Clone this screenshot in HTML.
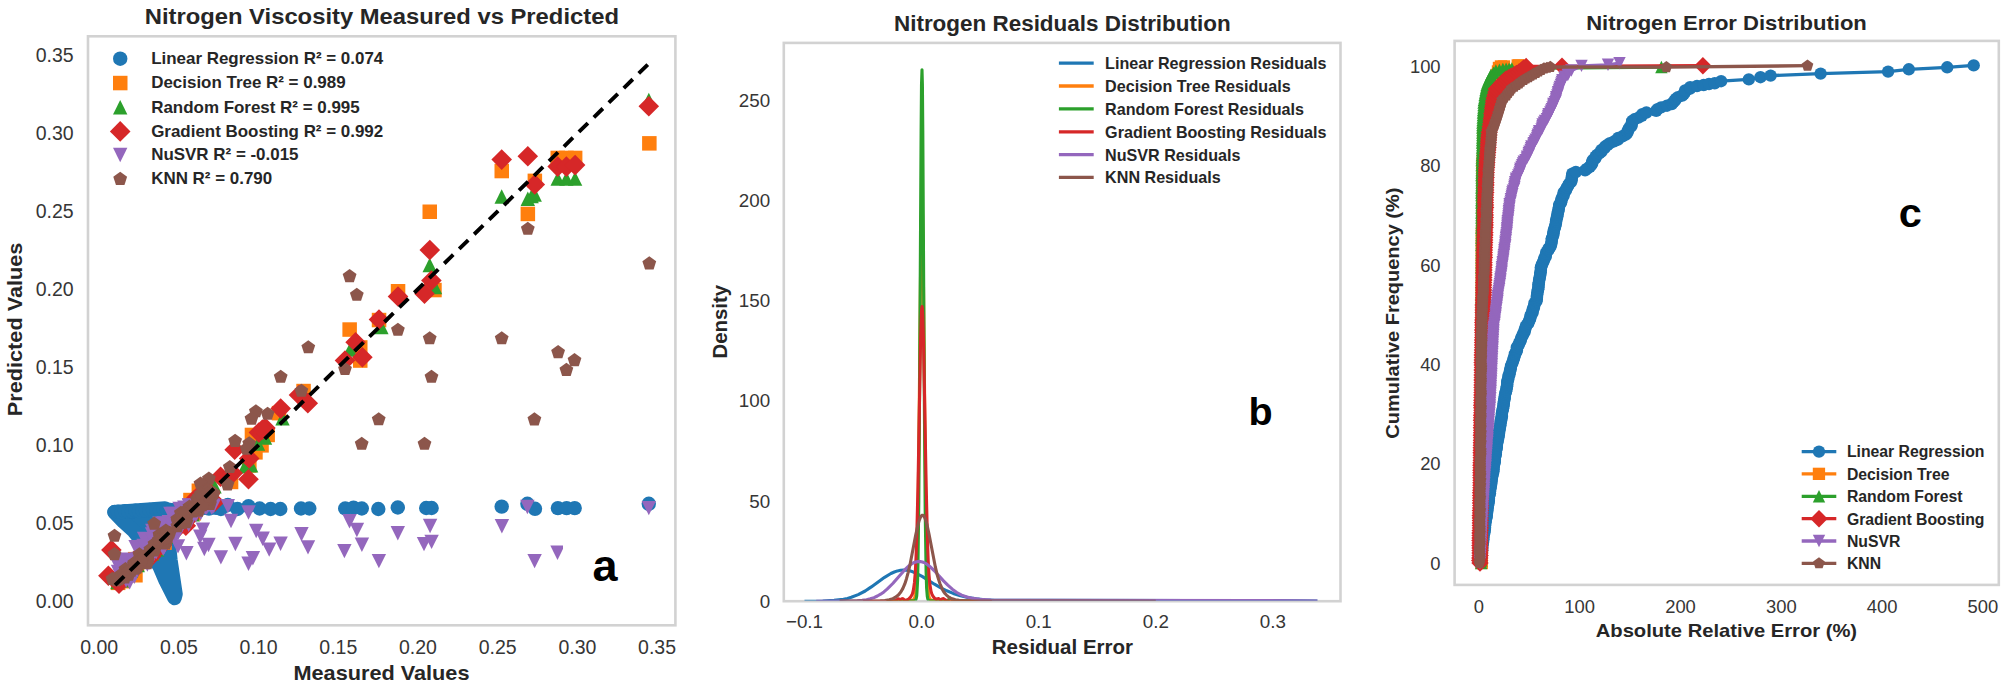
<!DOCTYPE html>
<html><head><meta charset="utf-8"><title>Nitrogen model comparison</title>
<style>
html,body{margin:0;padding:0;background:#fff;}
svg{display:block;}
text{font-family:"Liberation Sans",sans-serif;fill:#262626;}
.t{font-size:19.5px;fill:#363636;}
.b{font-weight:bold;}
</style></head><body>
<svg width="2006" height="688" viewBox="0 0 2006 688">
<rect width="2006" height="688" fill="#ffffff"/>
<defs><g id="c14_51f77b4" fill="#1f77b4"><circle r="7.2"/></g><g id="s14_5ff7f0e" fill="#ff7f0e"><rect x="-7.2" y="-7.2" width="14.5" height="14.5"/></g><g id="u14_52ca02c" fill="#2ca02c"><polygon points="0,-7.2 -7.2,7.2 7.2,7.2"/></g><g id="m14_5d62728" fill="#d62728"><polygon points="0,-10.3 10.3,0 0,10.3 -10.3,0"/></g><g id="d14_59467bd" fill="#9467bd"><polygon points="0,7.2 -7.2,-7.2 7.2,-7.2"/></g><g id="p14_58c564b" fill="#8c564b"><polygon points="0.00,-7.25 6.90,-2.24 4.26,5.87 -4.26,5.87 -6.90,-2.24"/></g><g id="c12_31f77b4" fill="#1f77b4"><circle r="6.2"/></g><g id="s12_3ff7f0e" fill="#ff7f0e"><rect x="-6.2" y="-6.2" width="12.3" height="12.3"/></g><g id="u12_32ca02c" fill="#2ca02c"><polygon points="0,-6.2 -6.2,6.2 6.2,6.2"/></g><g id="m12_3d62728" fill="#d62728"><polygon points="0,-8.7 8.7,0 0,8.7 -8.7,0"/></g><g id="d12_39467bd" fill="#9467bd"><polygon points="0,6.2 -6.2,-6.2 6.2,-6.2"/></g><g id="p12_38c564b" fill="#8c564b"><polygon points="0.00,-6.15 5.85,-1.90 3.61,4.98 -3.61,4.98 -5.85,-1.90"/></g></defs>
<g id="panel-a">
<rect x="88.0" y="36.3" width="587.4" height="589.0" fill="#fff" stroke="#d2d2d2" stroke-width="2.6"/>
<g clip-path="url(#clipA)">
<defs><clipPath id="clipA"><rect x="89.3" y="37.6" width="584.8" height="586.4"/></clipPath></defs>
<polygon points="114.5,512.2 123.6,521.7 133.8,530.9 147,547.5 159.7,566.6 165.8,580.8 174.5,598 175.5,594 170.4,560 165,508.5" fill="#1f77b4" stroke="#1f77b4" stroke-width="14.5" stroke-linejoin="round"/>
<use href="#c14_51f77b4" x="220.9" y="509.0"/>
<use href="#c14_51f77b4" x="227.8" y="505.0"/>
<use href="#c14_51f77b4" x="237.5" y="509.0"/>
<use href="#c14_51f77b4" x="248.5" y="506.3"/>
<use href="#c14_51f77b4" x="259.6" y="508.5"/>
<use href="#c14_51f77b4" x="270.6" y="509.0"/>
<use href="#c14_51f77b4" x="280.3" y="509.0"/>
<use href="#c14_51f77b4" x="301.0" y="508.5"/>
<use href="#c14_51f77b4" x="309.3" y="508.5"/>
<use href="#c14_51f77b4" x="345.2" y="508.5"/>
<use href="#c14_51f77b4" x="353.5" y="507.7"/>
<use href="#c14_51f77b4" x="361.8" y="508.5"/>
<use href="#c14_51f77b4" x="378.3" y="509.0"/>
<use href="#c14_51f77b4" x="397.8" y="507.5"/>
<use href="#c14_51f77b4" x="426.2" y="508.0"/>
<use href="#c14_51f77b4" x="431.6" y="508.0"/>
<use href="#c14_51f77b4" x="501.7" y="506.6"/>
<use href="#c14_51f77b4" x="527.4" y="503.8"/>
<use href="#c14_51f77b4" x="535.0" y="508.8"/>
<use href="#c14_51f77b4" x="557.9" y="508.1"/>
<use href="#c14_51f77b4" x="566.6" y="508.1"/>
<use href="#c14_51f77b4" x="574.7" y="508.1"/>
<use href="#c14_51f77b4" x="648.8" y="503.8"/>
<use href="#c14_51f77b4" x="114.5" y="512.0"/>
<use href="#c14_51f77b4" x="118.0" y="511.6"/>
<use href="#c14_51f77b4" x="121.5" y="512.2"/>
<use href="#c14_51f77b4" x="125.0" y="511.1"/>
<use href="#c14_51f77b4" x="128.5" y="511.7"/>
<use href="#c14_51f77b4" x="132.0" y="511.3"/>
<use href="#c14_51f77b4" x="135.5" y="510.6"/>
<use href="#c14_51f77b4" x="139.0" y="511.2"/>
<use href="#c14_51f77b4" x="142.5" y="510.3"/>
<use href="#c14_51f77b4" x="146.0" y="510.8"/>
<use href="#c14_51f77b4" x="149.5" y="510.0"/>
<use href="#c14_51f77b4" x="153.0" y="509.9"/>
<use href="#c14_51f77b4" x="156.5" y="510.3"/>
<use href="#c14_51f77b4" x="160.0" y="510.8"/>
<use href="#c14_51f77b4" x="163.5" y="509.5"/>
<use href="#c14_51f77b4" x="167.0" y="509.5"/>
<use href="#c14_51f77b4" x="170.5" y="510.0"/>
<use href="#c14_51f77b4" x="174.0" y="510.3"/>
<use href="#c14_51f77b4" x="177.5" y="509.6"/>
<use href="#c14_51f77b4" x="181.0" y="509.1"/>
<use href="#c14_51f77b4" x="184.5" y="509.9"/>
<use href="#c14_51f77b4" x="188.0" y="508.3"/>
<use href="#c14_51f77b4" x="191.5" y="509.4"/>
<use href="#c14_51f77b4" x="195.0" y="508.3"/>
<use href="#c14_51f77b4" x="198.5" y="508.0"/>
<use href="#c14_51f77b4" x="202.0" y="507.8"/>
<use href="#c14_51f77b4" x="205.5" y="507.9"/>
<use href="#c14_51f77b4" x="209.0" y="508.6"/>
<use href="#c14_51f77b4" x="212.5" y="507.4"/>
<use href="#c14_51f77b4" x="216.0" y="507.9"/>
<use href="#c14_51f77b4" x="219.5" y="507.8"/>
<use href="#s14_5ff7f0e" x="649.3" y="143.3"/>
<use href="#s14_5ff7f0e" x="501.7" y="171.0"/>
<use href="#s14_5ff7f0e" x="557.7" y="157.9"/>
<use href="#s14_5ff7f0e" x="566.4" y="157.9"/>
<use href="#s14_5ff7f0e" x="575.1" y="157.9"/>
<use href="#s14_5ff7f0e" x="534.8" y="180.8"/>
<use href="#s14_5ff7f0e" x="429.7" y="211.7"/>
<use href="#s14_5ff7f0e" x="527.8" y="213.9"/>
<use href="#s14_5ff7f0e" x="398.0" y="291.2"/>
<use href="#s14_5ff7f0e" x="431.1" y="288.5"/>
<use href="#s14_5ff7f0e" x="434.4" y="290.0"/>
<use href="#s14_5ff7f0e" x="360.2" y="347.4"/>
<use href="#s14_5ff7f0e" x="360.2" y="360.5"/>
<use href="#s14_5ff7f0e" x="303.5" y="391.0"/>
<use href="#s14_5ff7f0e" x="379.0" y="320.0"/>
<use href="#s14_5ff7f0e" x="349.6" y="329.5"/>
<use href="#s14_5ff7f0e" x="279.0" y="413.1"/>
<use href="#s14_5ff7f0e" x="251.9" y="434.9"/>
<use href="#s14_5ff7f0e" x="267.6" y="434.9"/>
<use href="#s14_5ff7f0e" x="261.5" y="445.3"/>
<use href="#s14_5ff7f0e" x="255.4" y="452.3"/>
<use href="#s14_5ff7f0e" x="249.3" y="465.4"/>
<use href="#s14_5ff7f0e" x="231.0" y="481.9"/>
<use href="#s14_5ff7f0e" x="198.8" y="490.7"/>
<use href="#s14_5ff7f0e" x="149.7" y="549.6"/>
<use href="#s14_5ff7f0e" x="180.2" y="522.3"/>
<use href="#s14_5ff7f0e" x="168.9" y="528.8"/>
<use href="#s14_5ff7f0e" x="135.1" y="559.1"/>
<use href="#s14_5ff7f0e" x="197.9" y="503.4"/>
<use href="#s14_5ff7f0e" x="154.6" y="546.0"/>
<use href="#s14_5ff7f0e" x="164.5" y="542.6"/>
<use href="#s14_5ff7f0e" x="195.4" y="500.8"/>
<use href="#s14_5ff7f0e" x="169.4" y="527.6"/>
<use href="#s14_5ff7f0e" x="155.8" y="536.6"/>
<use href="#s14_5ff7f0e" x="177.7" y="515.7"/>
<use href="#s14_5ff7f0e" x="150.1" y="547.5"/>
<use href="#s14_5ff7f0e" x="159.4" y="542.6"/>
<use href="#s14_5ff7f0e" x="128.6" y="574.3"/>
<use href="#s14_5ff7f0e" x="199.8" y="506.0"/>
<use href="#s14_5ff7f0e" x="191.5" y="507.4"/>
<use href="#s14_5ff7f0e" x="151.7" y="543.6"/>
<use href="#s14_5ff7f0e" x="131.4" y="568.3"/>
<use href="#s14_5ff7f0e" x="159.7" y="538.5"/>
<use href="#s14_5ff7f0e" x="150.1" y="550.7"/>
<use href="#s14_5ff7f0e" x="177.7" y="517.8"/>
<use href="#s14_5ff7f0e" x="199.8" y="500.7"/>
<use href="#s14_5ff7f0e" x="189.1" y="509.1"/>
<use href="#s14_5ff7f0e" x="122.7" y="581.1"/>
<use href="#s14_5ff7f0e" x="130.0" y="569.5"/>
<use href="#s14_5ff7f0e" x="124.6" y="575.6"/>
<use href="#s14_5ff7f0e" x="197.2" y="502.8"/>
<use href="#s14_5ff7f0e" x="151.5" y="553.1"/>
<use href="#s14_5ff7f0e" x="207.0" y="490.2"/>
<use href="#s14_5ff7f0e" x="148.1" y="553.6"/>
<use href="#s14_5ff7f0e" x="135.4" y="575.2"/>
<use href="#s14_5ff7f0e" x="166.4" y="534.3"/>
<use href="#s14_5ff7f0e" x="210.1" y="496.2"/>
<use href="#s14_5ff7f0e" x="132.9" y="571.5"/>
<use href="#s14_5ff7f0e" x="188.3" y="511.8"/>
<use href="#s14_5ff7f0e" x="190.4" y="500.0"/>
<use href="#s14_5ff7f0e" x="185.7" y="516.6"/>
<use href="#s14_5ff7f0e" x="118.1" y="582.8"/>
<use href="#s14_5ff7f0e" x="183.0" y="522.8"/>
<use href="#s14_5ff7f0e" x="203.3" y="493.7"/>
<use href="#s14_5ff7f0e" x="137.0" y="564.4"/>
<use href="#s14_5ff7f0e" x="191.7" y="503.6"/>
<use href="#s14_5ff7f0e" x="193.6" y="513.3"/>
<use href="#s14_5ff7f0e" x="184.3" y="513.2"/>
<use href="#s14_5ff7f0e" x="188.1" y="509.7"/>
<use href="#u14_52ca02c" x="648.8" y="100.0"/>
<use href="#u14_52ca02c" x="557.7" y="178.6"/>
<use href="#u14_52ca02c" x="566.4" y="178.6"/>
<use href="#u14_52ca02c" x="575.1" y="178.6"/>
<use href="#u14_52ca02c" x="501.7" y="196.5"/>
<use href="#u14_52ca02c" x="531.6" y="196.0"/>
<use href="#u14_52ca02c" x="527.8" y="198.7"/>
<use href="#u14_52ca02c" x="534.7" y="194.5"/>
<use href="#u14_52ca02c" x="429.7" y="265.0"/>
<use href="#u14_52ca02c" x="435.0" y="287.0"/>
<use href="#u14_52ca02c" x="381.4" y="327.0"/>
<use href="#u14_52ca02c" x="350.0" y="349.6"/>
<use href="#u14_52ca02c" x="282.5" y="418.3"/>
<use href="#u14_52ca02c" x="265.0" y="437.5"/>
<use href="#u14_52ca02c" x="258.0" y="443.6"/>
<use href="#u14_52ca02c" x="245.0" y="466.3"/>
<use href="#u14_52ca02c" x="251.1" y="465.4"/>
<use href="#u14_52ca02c" x="214.5" y="486.3"/>
<use href="#u14_52ca02c" x="150.2" y="550.2"/>
<use href="#u14_52ca02c" x="178.3" y="520.3"/>
<use href="#u14_52ca02c" x="171.1" y="531.0"/>
<use href="#u14_52ca02c" x="136.3" y="560.4"/>
<use href="#u14_52ca02c" x="196.7" y="502.2"/>
<use href="#u14_52ca02c" x="154.8" y="546.2"/>
<use href="#u14_52ca02c" x="162.1" y="540.2"/>
<use href="#u14_52ca02c" x="197.1" y="502.5"/>
<use href="#u14_52ca02c" x="170.5" y="528.8"/>
<use href="#u14_52ca02c" x="159.7" y="540.6"/>
<use href="#u14_52ca02c" x="177.2" y="515.3"/>
<use href="#u14_52ca02c" x="151.5" y="548.9"/>
<use href="#u14_52ca02c" x="159.6" y="542.8"/>
<use href="#u14_52ca02c" x="127.3" y="573.0"/>
<use href="#u14_52ca02c" x="198.7" y="504.9"/>
<use href="#u14_52ca02c" x="193.8" y="509.8"/>
<use href="#u14_52ca02c" x="157.3" y="549.3"/>
<use href="#u14_52ca02c" x="131.9" y="568.8"/>
<use href="#u14_52ca02c" x="160.3" y="539.2"/>
<use href="#u14_52ca02c" x="146.1" y="546.6"/>
<use href="#u14_52ca02c" x="180.4" y="520.5"/>
<use href="#u14_52ca02c" x="201.1" y="502.0"/>
<use href="#u14_52ca02c" x="191.9" y="511.9"/>
<use href="#u14_52ca02c" x="122.0" y="580.3"/>
<use href="#u14_52ca02c" x="130.9" y="570.4"/>
<use href="#u14_52ca02c" x="124.4" y="575.3"/>
<use href="#u14_52ca02c" x="197.4" y="503.0"/>
<use href="#u14_52ca02c" x="152.0" y="553.6"/>
<use href="#u14_52ca02c" x="209.8" y="493.1"/>
<use href="#u14_52ca02c" x="147.2" y="552.8"/>
<use href="#u14_52ca02c" x="131.0" y="570.6"/>
<use href="#u14_52ca02c" x="168.7" y="536.6"/>
<use href="#u14_52ca02c" x="205.9" y="491.9"/>
<use href="#u14_52ca02c" x="131.2" y="569.8"/>
<use href="#u14_52ca02c" x="190.1" y="513.7"/>
<use href="#u14_52ca02c" x="197.1" y="506.8"/>
<use href="#u14_52ca02c" x="187.4" y="518.3"/>
<use href="#u14_52ca02c" x="117.4" y="582.1"/>
<use href="#u14_52ca02c" x="180.3" y="520.1"/>
<use href="#u14_52ca02c" x="204.9" y="495.4"/>
<use href="#u14_52ca02c" x="137.7" y="565.0"/>
<use href="#u14_52ca02c" x="192.3" y="504.3"/>
<use href="#u14_52ca02c" x="192.3" y="512.0"/>
<use href="#u14_52ca02c" x="185.2" y="514.1"/>
<use href="#u14_52ca02c" x="192.7" y="514.4"/>
<use href="#m14_5d62728" x="648.8" y="106.2"/>
<use href="#m14_5d62728" x="501.7" y="159.6"/>
<use href="#m14_5d62728" x="527.8" y="156.2"/>
<use href="#m14_5d62728" x="534.8" y="184.5"/>
<use href="#m14_5d62728" x="557.7" y="166.6"/>
<use href="#m14_5d62728" x="566.4" y="166.6"/>
<use href="#m14_5d62728" x="575.1" y="165.1"/>
<use href="#m14_5d62728" x="429.8" y="250.0"/>
<use href="#m14_5d62728" x="431.4" y="280.5"/>
<use href="#m14_5d62728" x="424.5" y="293.8"/>
<use href="#m14_5d62728" x="398.0" y="296.5"/>
<use href="#m14_5d62728" x="379.0" y="319.5"/>
<use href="#m14_5d62728" x="355.6" y="342.3"/>
<use href="#m14_5d62728" x="362.4" y="357.2"/>
<use href="#m14_5d62728" x="345.0" y="360.5"/>
<use href="#m14_5d62728" x="280.7" y="408.6"/>
<use href="#m14_5d62728" x="307.8" y="403.2"/>
<use href="#m14_5d62728" x="299.0" y="395.0"/>
<use href="#m14_5d62728" x="265.4" y="428.0"/>
<use href="#m14_5d62728" x="258.9" y="432.5"/>
<use href="#m14_5d62728" x="262.4" y="429.6"/>
<use href="#m14_5d62728" x="234.7" y="449.8"/>
<use href="#m14_5d62728" x="249.2" y="458.5"/>
<use href="#m14_5d62728" x="248.5" y="479.2"/>
<use href="#m14_5d62728" x="220.6" y="476.7"/>
<use href="#m14_5d62728" x="232.8" y="473.2"/>
<use href="#m14_5d62728" x="214.5" y="502.0"/>
<use href="#m14_5d62728" x="111.4" y="550.0"/>
<use href="#m14_5d62728" x="108.4" y="575.7"/>
<use href="#m14_5d62728" x="151.5" y="551.5"/>
<use href="#m14_5d62728" x="180.3" y="522.4"/>
<use href="#m14_5d62728" x="171.4" y="531.3"/>
<use href="#m14_5d62728" x="137.2" y="561.3"/>
<use href="#m14_5d62728" x="199.0" y="504.5"/>
<use href="#m14_5d62728" x="153.7" y="545.0"/>
<use href="#m14_5d62728" x="161.7" y="539.7"/>
<use href="#m14_5d62728" x="200.8" y="506.2"/>
<use href="#m14_5d62728" x="173.8" y="532.1"/>
<use href="#m14_5d62728" x="159.5" y="540.3"/>
<use href="#m14_5d62728" x="182.3" y="520.4"/>
<use href="#m14_5d62728" x="151.3" y="548.8"/>
<use href="#m14_5d62728" x="161.8" y="545.0"/>
<use href="#m14_5d62728" x="129.1" y="574.8"/>
<use href="#m14_5d62728" x="194.2" y="500.3"/>
<use href="#m14_5d62728" x="191.7" y="507.7"/>
<use href="#m14_5d62728" x="155.5" y="547.4"/>
<use href="#m14_5d62728" x="133.1" y="570.0"/>
<use href="#m14_5d62728" x="163.0" y="541.8"/>
<use href="#m14_5d62728" x="148.3" y="548.8"/>
<use href="#m14_5d62728" x="180.3" y="520.5"/>
<use href="#m14_5d62728" x="196.8" y="497.6"/>
<use href="#m14_5d62728" x="192.9" y="512.9"/>
<use href="#m14_5d62728" x="121.4" y="579.7"/>
<use href="#m14_5d62728" x="131.5" y="571.0"/>
<use href="#m14_5d62728" x="125.0" y="575.9"/>
<use href="#m14_5d62728" x="198.0" y="503.7"/>
<use href="#m14_5d62728" x="152.1" y="553.7"/>
<use href="#m14_5d62728" x="210.1" y="493.4"/>
<use href="#m14_5d62728" x="151.0" y="556.6"/>
<use href="#m14_5d62728" x="129.3" y="569.0"/>
<use href="#m14_5d62728" x="167.0" y="534.9"/>
<use href="#m14_5d62728" x="207.8" y="493.9"/>
<use href="#m14_5d62728" x="128.6" y="567.2"/>
<use href="#m14_5d62728" x="191.0" y="514.6"/>
<use href="#m14_5d62728" x="192.8" y="502.5"/>
<use href="#m14_5d62728" x="185.0" y="515.9"/>
<use href="#m14_5d62728" x="119.0" y="583.8"/>
<use href="#m14_5d62728" x="185.8" y="525.7"/>
<use href="#m14_5d62728" x="206.7" y="497.2"/>
<use href="#m14_5d62728" x="133.8" y="561.1"/>
<use href="#m14_5d62728" x="195.2" y="507.2"/>
<use href="#m14_5d62728" x="193.6" y="513.4"/>
<use href="#m14_5d62728" x="186.4" y="515.4"/>
<use href="#m14_5d62728" x="191.8" y="513.4"/>
<use href="#d14_59467bd" x="248.5" y="512.5"/>
<use href="#d14_59467bd" x="231.0" y="521.0"/>
<use href="#d14_59467bd" x="256.2" y="531.0"/>
<use href="#d14_59467bd" x="262.7" y="538.7"/>
<use href="#d14_59467bd" x="235.4" y="544.0"/>
<use href="#d14_59467bd" x="280.6" y="543.7"/>
<use href="#d14_59467bd" x="269.2" y="549.6"/>
<use href="#d14_59467bd" x="248.5" y="563.7"/>
<use href="#d14_59467bd" x="252.9" y="558.3"/>
<use href="#d14_59467bd" x="301.5" y="534.3"/>
<use href="#d14_59467bd" x="308.0" y="547.4"/>
<use href="#d14_59467bd" x="349.5" y="521.2"/>
<use href="#d14_59467bd" x="356.9" y="530.0"/>
<use href="#d14_59467bd" x="361.9" y="544.8"/>
<use href="#d14_59467bd" x="344.4" y="551.1"/>
<use href="#d14_59467bd" x="378.9" y="561.1"/>
<use href="#d14_59467bd" x="397.8" y="533.2"/>
<use href="#d14_59467bd" x="430.1" y="526.0"/>
<use href="#d14_59467bd" x="424.0" y="544.1"/>
<use href="#d14_59467bd" x="431.6" y="541.9"/>
<use href="#d14_59467bd" x="527.4" y="507.0"/>
<use href="#d14_59467bd" x="501.9" y="526.2"/>
<use href="#d14_59467bd" x="534.6" y="561.1"/>
<use href="#d14_59467bd" x="557.5" y="552.8"/>
<use href="#d14_59467bd" x="648.8" y="508.1"/>
<use href="#d14_59467bd" x="227.8" y="506.3"/>
<use href="#d14_59467bd" x="202.9" y="529.8"/>
<use href="#d14_59467bd" x="200.2" y="536.7"/>
<use href="#d14_59467bd" x="208.5" y="545.0"/>
<use href="#d14_59467bd" x="204.3" y="549.0"/>
<use href="#d14_59467bd" x="186.4" y="553.3"/>
<use href="#d14_59467bd" x="178.0" y="546.4"/>
<use href="#d14_59467bd" x="220.9" y="557.4"/>
<use href="#d14_59467bd" x="213.6" y="506.4"/>
<use href="#d14_59467bd" x="163.2" y="548.8"/>
<use href="#d14_59467bd" x="179.5" y="508.9"/>
<use href="#d14_59467bd" x="126.9" y="559.8"/>
<use href="#d14_59467bd" x="205.0" y="505.4"/>
<use href="#d14_59467bd" x="200.8" y="513.0"/>
<use href="#d14_59467bd" x="176.3" y="517.5"/>
<use href="#d14_59467bd" x="163.5" y="523.4"/>
<use href="#d14_59467bd" x="129.7" y="582.3"/>
<use href="#d14_59467bd" x="178.4" y="521.0"/>
<use href="#d14_59467bd" x="201.8" y="507.6"/>
<use href="#d14_59467bd" x="189.0" y="505.8"/>
<use href="#d14_59467bd" x="142.8" y="547.0"/>
<use href="#d14_59467bd" x="168.8" y="522.2"/>
<use href="#d14_59467bd" x="152.1" y="534.5"/>
<use href="#d14_59467bd" x="198.5" y="506.4"/>
<use href="#d14_59467bd" x="178.4" y="532.6"/>
<use href="#d14_59467bd" x="164.4" y="546.7"/>
<use href="#d14_59467bd" x="165.5" y="533.7"/>
<use href="#d14_59467bd" x="159.5" y="523.8"/>
<use href="#d14_59467bd" x="154.8" y="533.5"/>
<use href="#d14_59467bd" x="126.1" y="580.5"/>
<use href="#d14_59467bd" x="135.9" y="561.0"/>
<use href="#d14_59467bd" x="185.5" y="515.0"/>
<use href="#d14_59467bd" x="150.0" y="548.5"/>
<use href="#d14_59467bd" x="174.1" y="533.1"/>
<use href="#d14_59467bd" x="131.4" y="568.0"/>
<use href="#d14_59467bd" x="139.5" y="551.4"/>
<use href="#d14_59467bd" x="188.8" y="510.2"/>
<use href="#d14_59467bd" x="174.3" y="532.2"/>
<use href="#d14_59467bd" x="200.1" y="506.8"/>
<use href="#d14_59467bd" x="165.6" y="533.1"/>
<use href="#d14_59467bd" x="181.0" y="516.1"/>
<use href="#d14_59467bd" x="167.5" y="530.2"/>
<use href="#d14_59467bd" x="206.6" y="507.6"/>
<use href="#d14_59467bd" x="199.8" y="506.7"/>
<use href="#d14_59467bd" x="208.9" y="505.4"/>
<use href="#d14_59467bd" x="130.9" y="564.8"/>
<use href="#d14_59467bd" x="123.6" y="565.8"/>
<use href="#d14_59467bd" x="130.2" y="572.5"/>
<use href="#d14_59467bd" x="195.8" y="515.3"/>
<use href="#d14_59467bd" x="138.0" y="566.3"/>
<use href="#d14_59467bd" x="173.4" y="514.0"/>
<use href="#d14_59467bd" x="205.6" y="507.9"/>
<use href="#d14_59467bd" x="147.4" y="564.5"/>
<use href="#d14_59467bd" x="155.8" y="541.9"/>
<use href="#d14_59467bd" x="212.8" y="505.5"/>
<use href="#d14_59467bd" x="159.2" y="539.5"/>
<use href="#d14_59467bd" x="146.2" y="542.3"/>
<use href="#d14_59467bd" x="152.5" y="552.4"/>
<use href="#d14_59467bd" x="123.7" y="575.3"/>
<use href="#d14_59467bd" x="152.3" y="530.9"/>
<use href="#d14_59467bd" x="152.1" y="549.7"/>
<use href="#d14_59467bd" x="159.3" y="525.5"/>
<use href="#d14_59467bd" x="211.7" y="507.9"/>
<use href="#d14_59467bd" x="126.8" y="563.5"/>
<use href="#d14_59467bd" x="129.0" y="577.1"/>
<use href="#d14_59467bd" x="139.1" y="547.2"/>
<use href="#d14_59467bd" x="164.4" y="546.5"/>
<use href="#d14_59467bd" x="189.1" y="505.4"/>
<use href="#d14_59467bd" x="202.6" y="507.1"/>
<use href="#d14_59467bd" x="122.2" y="561.5"/>
<use href="#d14_59467bd" x="180.2" y="516.1"/>
<use href="#d14_59467bd" x="134.3" y="576.8"/>
<use href="#d14_59467bd" x="181.3" y="526.6"/>
<use href="#d14_59467bd" x="134.0" y="574.6"/>
<use href="#d14_59467bd" x="132.6" y="576.1"/>
<use href="#d14_59467bd" x="158.4" y="534.8"/>
<use href="#d14_59467bd" x="176.1" y="535.5"/>
<use href="#d14_59467bd" x="138.9" y="547.4"/>
<use href="#d14_59467bd" x="163.2" y="526.9"/>
<use href="#d14_59467bd" x="125.6" y="561.4"/>
<use href="#d14_59467bd" x="121.0" y="567.1"/>
<use href="#d14_59467bd" x="145.5" y="546.4"/>
<use href="#d14_59467bd" x="184.3" y="507.8"/>
<use href="#d14_59467bd" x="160.0" y="528.3"/>
<use href="#d14_59467bd" x="144.1" y="538.9"/>
<use href="#d14_59467bd" x="135.6" y="547.1"/>
<use href="#d14_59467bd" x="186.1" y="514.2"/>
<use href="#d14_59467bd" x="137.4" y="559.5"/>
<use href="#d14_59467bd" x="196.8" y="507.5"/>
<use href="#d14_59467bd" x="158.9" y="539.1"/>
<use href="#d14_59467bd" x="192.5" y="506.5"/>
<use href="#d14_59467bd" x="188.7" y="524.9"/>
<use href="#d14_59467bd" x="156.3" y="552.0"/>
<use href="#d14_59467bd" x="185.1" y="517.8"/>
<use href="#d14_59467bd" x="154.2" y="539.1"/>
<use href="#d14_59467bd" x="120.3" y="565.7"/>
<use href="#d14_59467bd" x="131.1" y="573.9"/>
<use href="#d14_59467bd" x="138.4" y="549.0"/>
<use href="#d14_59467bd" x="133.8" y="574.3"/>
<use href="#d14_59467bd" x="199.9" y="505.8"/>
<use href="#d14_59467bd" x="139.2" y="552.2"/>
<use href="#d14_59467bd" x="156.1" y="531.4"/>
<use href="#d14_59467bd" x="156.5" y="534.3"/>
<use href="#d14_59467bd" x="212.5" y="506.6"/>
<use href="#d14_59467bd" x="149.7" y="562.5"/>
<use href="#d14_59467bd" x="146.0" y="547.4"/>
<use href="#d14_59467bd" x="119.5" y="574.2"/>
<use href="#d14_59467bd" x="162.7" y="535.6"/>
<use href="#d14_59467bd" x="138.8" y="559.0"/>
<use href="#d14_59467bd" x="118.0" y="572.0"/>
<use href="#d14_59467bd" x="127.5" y="566.9"/>
<use href="#d14_59467bd" x="117.5" y="565.1"/>
<use href="#d14_59467bd" x="143.7" y="545.9"/>
<use href="#d14_59467bd" x="172.8" y="526.5"/>
<use href="#d14_59467bd" x="189.2" y="514.4"/>
<use href="#d14_59467bd" x="189.6" y="520.8"/>
<use href="#d14_59467bd" x="152.6" y="540.1"/>
<use href="#d14_59467bd" x="201.9" y="507.2"/>
<use href="#d14_59467bd" x="170.4" y="513.9"/>
<use href="#p14_58c564b" x="308.3" y="347.4"/>
<use href="#p14_58c564b" x="280.7" y="376.9"/>
<use href="#p14_58c564b" x="397.9" y="330.0"/>
<use href="#p14_58c564b" x="429.7" y="338.4"/>
<use href="#p14_58c564b" x="431.5" y="376.9"/>
<use href="#p14_58c564b" x="378.7" y="419.4"/>
<use href="#p14_58c564b" x="361.7" y="444.0"/>
<use href="#p14_58c564b" x="424.5" y="444.0"/>
<use href="#p14_58c564b" x="345.0" y="369.2"/>
<use href="#p14_58c564b" x="301.4" y="391.0"/>
<use href="#p14_58c564b" x="255.9" y="411.5"/>
<use href="#p14_58c564b" x="267.6" y="413.9"/>
<use href="#p14_58c564b" x="251.5" y="418.8"/>
<use href="#p14_58c564b" x="235.1" y="441.1"/>
<use href="#p14_58c564b" x="249.2" y="443.5"/>
<use href="#p14_58c564b" x="246.7" y="448.8"/>
<use href="#p14_58c564b" x="229.8" y="467.2"/>
<use href="#p14_58c564b" x="208.9" y="478.8"/>
<use href="#p14_58c564b" x="200.5" y="483.7"/>
<use href="#p14_58c564b" x="227.5" y="484.6"/>
<use href="#p14_58c564b" x="204.9" y="490.7"/>
<use href="#p14_58c564b" x="213.6" y="493.3"/>
<use href="#p14_58c564b" x="527.8" y="229.0"/>
<use href="#p14_58c564b" x="649.3" y="263.6"/>
<use href="#p14_58c564b" x="501.7" y="338.4"/>
<use href="#p14_58c564b" x="558.1" y="352.3"/>
<use href="#p14_58c564b" x="574.5" y="360.3"/>
<use href="#p14_58c564b" x="566.4" y="370.1"/>
<use href="#p14_58c564b" x="534.4" y="419.6"/>
<use href="#p14_58c564b" x="349.6" y="276.3"/>
<use href="#p14_58c564b" x="356.8" y="295.0"/>
<use href="#p14_58c564b" x="114.5" y="536.0"/>
<use href="#p14_58c564b" x="114.5" y="554.3"/>
<use href="#p14_58c564b" x="154.2" y="523.8"/>
<use href="#p14_58c564b" x="193.9" y="506.9"/>
<use href="#p14_58c564b" x="197.1" y="499.4"/>
<use href="#p14_58c564b" x="189.5" y="506.7"/>
<use href="#p14_58c564b" x="125.5" y="569.3"/>
<use href="#p14_58c564b" x="193.9" y="506.9"/>
<use href="#p14_58c564b" x="192.9" y="511.6"/>
<use href="#p14_58c564b" x="197.1" y="499.2"/>
<use href="#p14_58c564b" x="179.3" y="520.9"/>
<use href="#p14_58c564b" x="116.4" y="580.5"/>
<use href="#p14_58c564b" x="126.9" y="571.9"/>
<use href="#p14_58c564b" x="195.2" y="508.1"/>
<use href="#p14_58c564b" x="165.8" y="530.8"/>
<use href="#p14_58c564b" x="177.3" y="519.3"/>
<use href="#p14_58c564b" x="165.6" y="543.7"/>
<use href="#p14_58c564b" x="186.2" y="515.5"/>
<use href="#p14_58c564b" x="159.5" y="534.8"/>
<use href="#p14_58c564b" x="120.5" y="578.1"/>
<use href="#p14_58c564b" x="185.0" y="516.5"/>
<use href="#p14_58c564b" x="141.1" y="561.2"/>
<use href="#p14_58c564b" x="185.3" y="518.2"/>
<use href="#p14_58c564b" x="211.3" y="498.0"/>
<use href="#p14_58c564b" x="160.0" y="537.1"/>
<use href="#p14_58c564b" x="181.7" y="523.2"/>
<use href="#p14_58c564b" x="185.4" y="511.2"/>
<use href="#p14_58c564b" x="120.1" y="575.5"/>
<use href="#p14_58c564b" x="128.9" y="571.2"/>
<use href="#p14_58c564b" x="147.7" y="560.6"/>
<use href="#p14_58c564b" x="169.8" y="533.0"/>
<use href="#p14_58c564b" x="140.6" y="560.1"/>
<use href="#p14_58c564b" x="177.6" y="521.2"/>
<use href="#p14_58c564b" x="139.4" y="554.6"/>
<use href="#p14_58c564b" x="161.5" y="534.4"/>
<use href="#p14_58c564b" x="126.8" y="574.6"/>
<use href="#p14_58c564b" x="201.9" y="503.9"/>
<use href="#p14_58c564b" x="210.0" y="504.1"/>
<use href="#p14_58c564b" x="112.5" y="579.1"/>
<use href="#p14_58c564b" x="208.1" y="496.1"/>
<use href="#p14_58c564b" x="157.5" y="543.0"/>
<use href="#p14_58c564b" x="206.4" y="498.7"/>
<use href="#p14_58c564b" x="133.9" y="564.3"/>
<use href="#p14_58c564b" x="164.2" y="535.6"/>
<use href="#p14_58c564b" x="208.4" y="499.3"/>
<use href="#p14_58c564b" x="166.5" y="540.9"/>
<use href="#p14_58c564b" x="198.8" y="502.0"/>
<use href="#p14_58c564b" x="198.7" y="499.9"/>
<use href="#p14_58c564b" x="161.4" y="540.0"/>
<use href="#p14_58c564b" x="161.7" y="539.3"/>
<use href="#p14_58c564b" x="157.4" y="542.7"/>
<use href="#p14_58c564b" x="148.9" y="554.2"/>
<use href="#p14_58c564b" x="145.1" y="555.7"/>
<use href="#p14_58c564b" x="186.2" y="515.1"/>
<use href="#p14_58c564b" x="198.6" y="510.9"/>
<use href="#p14_58c564b" x="186.3" y="522.4"/>
<use href="#p14_58c564b" x="200.1" y="500.6"/>
<use href="#p14_58c564b" x="154.5" y="550.7"/>
<use href="#p14_58c564b" x="208.0" y="490.2"/>
<use href="#p14_58c564b" x="154.5" y="544.0"/>
<use href="#p14_58c564b" x="142.2" y="560.5"/>
<use href="#p14_58c564b" x="194.6" y="507.7"/>
<use href="#p14_58c564b" x="143.7" y="560.1"/>
<use href="#p14_58c564b" x="139.6" y="559.6"/>
<use href="#p14_58c564b" x="164.4" y="538.3"/>
<use href="#p14_58c564b" x="207.9" y="498.2"/>
<use href="#p14_58c564b" x="200.2" y="504.0"/>
<use href="#p14_58c564b" x="198.8" y="497.0"/>
<use href="#p14_58c564b" x="200.9" y="493.9"/>
<use href="#p14_58c564b" x="118.6" y="579.3"/>
<use href="#p14_58c564b" x="180.9" y="513.1"/>
<use href="#p14_58c564b" x="177.4" y="526.3"/>
<use href="#p14_58c564b" x="147.2" y="563.5"/>
<use href="#p14_58c564b" x="128.7" y="574.8"/>
<use href="#p14_58c564b" x="158.8" y="540.0"/>
<use href="#p14_58c564b" x="186.8" y="517.9"/>
<use href="#p14_58c564b" x="207.5" y="494.0"/>
<use href="#p14_58c564b" x="146.9" y="560.5"/>
<use href="#p14_58c564b" x="166.8" y="532.0"/>
<use href="#p14_58c564b" x="131.2" y="570.8"/>
<use href="#p14_58c564b" x="137.0" y="568.0"/>
<use href="#p14_58c564b" x="134.4" y="563.0"/>
<use href="#p14_58c564b" x="203.6" y="503.3"/>
<use href="#p14_58c564b" x="128.2" y="572.0"/>
<use href="#p14_58c564b" x="135.1" y="568.9"/>
<use href="#p14_58c564b" x="124.8" y="577.7"/>
<use href="#p14_58c564b" x="137.6" y="562.6"/>
<use href="#p14_58c564b" x="202.3" y="505.5"/>
<use href="#p14_58c564b" x="184.2" y="513.2"/>
<use href="#p14_58c564b" x="166.0" y="537.5"/>
<use href="#p14_58c564b" x="150.4" y="549.5"/>
<use href="#p14_58c564b" x="142.1" y="559.9"/>
<use href="#p14_58c564b" x="208.9" y="497.0"/>
<line x1="115.1" y1="585.2" x2="649.1" y2="63.3" stroke="#000" stroke-width="3.9" stroke-dasharray="12.6 8.32"/>
</g>
<use href="#c14_51f77b4" x="120.2" y="58.7"/>
<text x="151.2" y="63.9" class="b" style="font-size:16.95px">Linear Regression R² = 0.074</text>
<use href="#s14_5ff7f0e" x="120.2" y="83.0"/>
<text x="151.2" y="88.2" class="b" style="font-size:16.95px">Decision Tree R² = 0.989</text>
<use href="#u14_52ca02c" x="120.2" y="107.3"/>
<text x="151.2" y="112.5" class="b" style="font-size:16.95px">Random Forest R² = 0.995</text>
<use href="#m14_5d62728" x="120.2" y="131.4"/>
<text x="151.2" y="136.6" class="b" style="font-size:16.95px">Gradient Boosting R² = 0.992</text>
<use href="#d14_59467bd" x="120.2" y="155.0"/>
<text x="151.2" y="160.2" class="b" style="font-size:16.95px">NuSVR R² = -0.015</text>
<use href="#p14_58c564b" x="120.2" y="179.1"/>
<text x="151.2" y="184.3" class="b" style="font-size:16.95px">KNN R² = 0.790</text>
<text class="t" text-anchor="middle" x="99.2" y="653.8">0.00</text>
<text class="t" text-anchor="end" x="73.6" y="607.8">0.00</text>
<text class="t" text-anchor="middle" x="178.9" y="653.8">0.05</text>
<text class="t" text-anchor="end" x="73.6" y="529.8">0.05</text>
<text class="t" text-anchor="middle" x="258.6" y="653.8">0.10</text>
<text class="t" text-anchor="end" x="73.6" y="451.8">0.10</text>
<text class="t" text-anchor="middle" x="338.3" y="653.8">0.15</text>
<text class="t" text-anchor="end" x="73.6" y="373.8">0.15</text>
<text class="t" text-anchor="middle" x="418.0" y="653.8">0.20</text>
<text class="t" text-anchor="end" x="73.6" y="295.8">0.20</text>
<text class="t" text-anchor="middle" x="497.7" y="653.8">0.25</text>
<text class="t" text-anchor="end" x="73.6" y="217.8">0.25</text>
<text class="t" text-anchor="middle" x="577.4" y="653.8">0.30</text>
<text class="t" text-anchor="end" x="73.6" y="139.8">0.30</text>
<text class="t" text-anchor="middle" x="657.1" y="653.8">0.35</text>
<text class="t" text-anchor="end" x="73.6" y="61.8">0.35</text>
<text class="b" text-anchor="middle" transform="translate(381.8,24.2) scale(1,0.95)" style="font-size:23.8px">Nitrogen Viscosity Measured vs Predicted</text>
<text class="b" text-anchor="middle" transform="translate(381.45,680.3) scale(1,0.95)" style="font-size:21.7px">Measured Values</text>
<text class="b" text-anchor="middle" transform="translate(22.4,329.4) rotate(-90) scale(1,0.95)" style="font-size:21.7px">Predicted Values</text>
<rect x="563" y="538" width="72" height="56" fill="#fff"/>
<text class="b" x="592.5" y="581" style="font-size:45px;fill:#000">a</text>
</g>
<g id="panel-b">
<rect x="783.8" y="42.9" width="556.7" height="558.3" fill="#fff" stroke="#d2d2d2" stroke-width="2.6"/>
<defs><clipPath id="clipB"><rect x="785.1" y="44.2" width="554.1" height="556.3"/></clipPath></defs>
<g fill="none" stroke-width="3.1" stroke-linejoin="round" stroke-linecap="butt" clip-path="url(#clipB)">
<polyline stroke="#1f77b4" points="804.5,601.2 822.7,601.0 834.1,600.4 843.4,599.2 847.5,598.4 851.3,597.3 858.2,594.6 865.2,591.0 871.3,586.9 884.6,577.3 890.9,573.5 894.3,572.0 897.5,570.9 900.5,570.3 903.6,570.1 906.6,570.2 909.6,570.8 912.8,571.8 916.2,573.3 922.1,576.4 934.5,584.2 940.4,587.6 946.8,590.8 953.2,593.4 960.4,595.7 968.0,597.5 976.2,598.8 985.0,599.7 994.9,600.2 1007.2,600.4 1051.1,600.3 1196.0,600.6 1255.7,600.5 1317.4,601.0"/>
<polyline stroke="#ff7f0e" points="886.5,600.9 911.0,600.2 913.0,600.0 914.0,599.2 914.7,597.7 915.2,594.9 915.7,590.8 916.3,580.9 916.9,566.6 917.9,520.6 918.8,449.6 920.8,249.2 921.4,213.8 921.7,204.9 922.0,201.9 922.2,204.9 922.5,213.8 923.1,249.2 925.2,453.8 926.2,527.6 927.3,573.5 927.9,586.6 928.6,594.6 929.1,597.1 929.7,598.8 930.4,599.6 931.5,600.0 962.9,600.8 980.1,601.1"/>
<polyline stroke="#2ca02c" points="886.5,601.1 914.9,600.5 915.7,599.9 916.2,598.5 916.7,595.9 917.0,591.7 917.6,580.1 918.0,562.1 918.8,501.4 919.5,402.3 921.1,132.2 921.5,84.9 922.0,69.8 922.4,84.2 922.8,131.0 924.4,409.3 925.2,511.2 926.1,571.4 926.6,587.8 927.3,596.4 927.7,598.5 928.1,599.7 928.7,600.4 929.6,600.6 946.8,600.7 948.0,600.3 949.6,598.6 950.3,598.3 950.9,598.6 952.7,600.4 954.2,600.9 991.9,601.2"/>
<polyline stroke="#d62728" points="863.1,601.2 894.3,601.0 895.8,600.6 898.0,598.8 898.6,598.8 899.7,599.5 900.2,599.7 902.3,598.6 902.9,598.8 904.6,600.1 906.0,600.2 907.3,599.7 908.6,599.0 909.8,598.0 910.8,596.8 912.4,593.9 913.4,589.9 914.4,583.0 915.3,572.6 916.0,558.0 916.7,538.9 918.0,486.1 920.6,339.4 921.4,314.6 921.7,308.5 922.1,306.5 922.4,308.7 922.8,315.0 923.5,340.2 926.2,486.9 927.5,541.5 928.2,560.7 929.0,574.8 929.9,584.6 931.0,591.2 931.9,594.1 933.0,596.3 934.6,598.3 936.2,599.2 936.8,599.1 938.5,598.5 940.2,599.6 940.8,599.8 942.7,598.7 943.4,598.6 944.0,598.9 946.2,600.6 948.2,601.0 991.9,601.2"/>
<polyline stroke="#9467bd" points="816.2,601.2 844.8,601.1 857.1,600.8 862.1,600.3 866.5,599.7 870.3,598.8 874.0,597.6 877.4,596.0 880.6,594.2 883.9,591.9 887.1,589.1 892.8,583.5 904.4,570.2 909.4,565.4 911.9,563.7 914.3,562.4 916.7,561.7 919.0,561.4 921.5,561.7 924.0,562.5 926.5,563.9 929.2,565.9 934.1,570.5 943.5,580.9 947.8,585.2 952.3,589.2 956.8,592.5 961.7,595.1 966.9,597.0 972.8,598.4 979.7,599.4 991.1,600.1 1007.2,600.4 1256.1,600.5 1317.4,601.0"/>
<polyline stroke="#8c564b" points="839.6,601.1 874.0,601.0 880.3,600.8 884.8,600.5 889.3,599.8 892.9,598.6 896.0,596.9 898.6,594.7 900.8,592.0 902.9,588.4 904.8,583.9 906.5,578.7 908.2,572.3 910.1,564.3 915.8,534.5 918.0,524.8 919.1,520.6 920.3,517.6 921.4,515.8 921.9,515.3 922.5,515.2 923.5,515.7 924.6,517.4 925.7,520.2 926.9,524.4 929.0,534.0 935.4,567.2 937.6,576.3 939.9,583.5 942.4,589.4 943.7,591.7 945.2,593.7 946.7,595.3 948.3,596.7 950.2,597.9 952.3,598.8 955.4,599.7 959.1,600.3 963.8,600.6 970.3,600.8 1064.7,601.1 1155.8,601.2"/>
</g>
<line x1="1058.9" x2="1093.7" y1="63.2" y2="63.2" stroke="#1f77b4" stroke-width="3.3"/>
<text x="1105.1" y="69.1" class="b" style="font-size:16.14px">Linear Regression Residuals</text>
<line x1="1058.9" x2="1093.7" y1="86.0" y2="86.0" stroke="#ff7f0e" stroke-width="3.3"/>
<text x="1105.1" y="91.9" class="b" style="font-size:16.14px">Decision Tree Residuals</text>
<line x1="1058.9" x2="1093.7" y1="108.8" y2="108.8" stroke="#2ca02c" stroke-width="3.3"/>
<text x="1105.1" y="114.7" class="b" style="font-size:16.14px">Random Forest Residuals</text>
<line x1="1058.9" x2="1093.7" y1="131.8" y2="131.8" stroke="#d62728" stroke-width="3.3"/>
<text x="1105.1" y="137.7" class="b" style="font-size:16.14px">Gradient Boosting Residuals</text>
<line x1="1058.9" x2="1093.7" y1="154.6" y2="154.6" stroke="#9467bd" stroke-width="3.3"/>
<text x="1105.1" y="160.5" class="b" style="font-size:16.14px">NuSVR Residuals</text>
<line x1="1058.9" x2="1093.7" y1="177.3" y2="177.3" stroke="#8c564b" stroke-width="3.3"/>
<text x="1105.1" y="183.2" class="b" style="font-size:16.14px">KNN Residuals</text>
<text class="t" text-anchor="middle" x="804.5" y="627.8" style="font-size:18.8px">−0.1</text>
<text class="t" text-anchor="middle" x="921.6" y="627.8" style="font-size:18.8px">0.0</text>
<text class="t" text-anchor="middle" x="1038.7" y="627.8" style="font-size:18.8px">0.1</text>
<text class="t" text-anchor="middle" x="1155.8" y="627.8" style="font-size:18.8px">0.2</text>
<text class="t" text-anchor="middle" x="1272.9" y="627.8" style="font-size:18.8px">0.3</text>
<text class="t" text-anchor="end" x="770.2" y="608.0" style="font-size:18.8px">0</text>
<text class="t" text-anchor="end" x="770.2" y="507.7" style="font-size:18.8px">50</text>
<text class="t" text-anchor="end" x="770.2" y="407.4" style="font-size:18.8px">100</text>
<text class="t" text-anchor="end" x="770.2" y="307.1" style="font-size:18.8px">150</text>
<text class="t" text-anchor="end" x="770.2" y="206.8" style="font-size:18.8px">200</text>
<text class="t" text-anchor="end" x="770.2" y="106.5" style="font-size:18.8px">250</text>
<text class="b" text-anchor="middle" transform="translate(1062.3,31.4) scale(1,0.95)" style="font-size:22.46px">Nitrogen Residuals Distribution</text>
<text class="b" text-anchor="middle" transform="translate(1062.4,653.8) scale(1,0.95)" style="font-size:20.5px">Residual Error</text>
<text class="b" text-anchor="middle" transform="translate(727.0,321.7) rotate(-90) scale(1,0.95)" style="font-size:20.4px">Density</text>
<text class="b" x="1248.6" y="425.2" style="font-size:39.5px;fill:#000">b</text>
</g>
<g id="panel-c">
<rect x="1454.6" y="40.9" width="544.2" height="544.0" fill="#fff" stroke="#d2d2d2" stroke-width="2.6"/>
<polyline fill="none" stroke="#1f77b4" stroke-width="3.3" stroke-linejoin="round" points="1480.5,563.0 1480.7,561.3 1480.9,559.6 1481.0,557.9 1481.1,556.2 1481.4,554.5 1481.6,552.8 1482.1,551.1 1482.2,549.4 1482.2,547.7 1482.4,546.0 1482.4,544.3 1482.9,542.6 1483.2,540.9 1483.2,539.2 1483.4,537.5 1483.5,535.8 1483.9,534.1 1484.4,532.4 1484.6,530.7 1484.9,529.0 1484.9,527.3 1485.1,525.6 1485.2,523.9 1485.4,522.2 1485.8,520.5 1486.1,518.8 1486.6,517.1 1486.7,515.4 1486.9,513.7 1487.2,512.0 1487.3,510.3 1487.5,508.6 1487.6,506.9 1488.1,505.2 1488.2,503.5 1488.8,501.8 1488.9,500.1 1488.9,498.4 1489.0,496.7 1489.4,495.0 1489.9,493.3 1490.0,491.6 1490.2,489.9 1490.3,488.2 1490.8,486.5 1491.1,484.8 1491.2,483.1 1491.4,481.4 1491.7,479.7 1491.9,478.0 1492.2,476.3 1492.5,474.6 1493.1,472.9 1493.2,471.2 1493.6,469.5 1493.6,467.8 1493.7,466.1 1493.9,464.4 1494.7,462.7 1494.8,461.0 1494.8,459.3 1494.8,457.6 1495.4,455.9 1495.8,454.2 1495.9,452.5 1496.0,450.8 1496.5,449.1 1496.8,447.4 1496.9,445.7 1497.0,444.0 1497.3,442.3 1497.7,440.6 1498.1,438.9 1498.1,437.2 1498.8,435.5 1499.0,433.8 1499.1,432.1 1499.2,430.4 1499.8,428.7 1500.0,427.0 1500.3,425.3 1500.5,423.6 1500.6,421.9 1501.2,420.2 1501.2,418.5 1501.9,416.8 1501.9,415.1 1501.9,413.4 1502.2,411.7 1502.7,410.0 1503.1,408.3 1503.3,406.6 1503.6,404.9 1503.8,403.2 1503.9,401.5 1504.4,399.8 1504.7,398.1 1504.8,396.4 1505.0,394.7 1505.5,393.0 1506.1,391.3 1506.4,389.6 1506.6,387.9 1507.1,386.2 1507.2,384.5 1507.3,382.8 1507.3,381.1 1508.2,379.4 1508.3,377.7 1508.6,376.0 1509.5,374.3 1509.6,372.6 1510.1,370.9 1510.5,369.2 1510.8,367.5 1511.1,365.8 1511.9,364.1 1512.5,362.4 1513.1,360.7 1513.7,359.0 1514.2,357.3 1514.7,355.6 1514.9,353.9 1516.1,352.2 1516.9,350.5 1516.9,348.8 1516.9,347.1 1518.4,345.4 1518.9,343.7 1520.0,342.0 1520.7,340.3 1521.0,338.6 1521.9,336.9 1522.7,335.2 1523.3,333.5 1524.7,331.8 1524.7,330.1 1525.4,328.4 1525.7,326.7 1526.7,325.0 1528.3,323.3 1528.7,321.6 1529.7,319.9 1530.3,318.2 1530.5,316.5 1530.8,314.8 1532.5,313.1 1532.5,311.4 1532.6,309.7 1533.9,308.0 1533.9,306.3 1534.5,304.6 1534.6,302.9 1536.4,301.2 1536.8,299.5 1536.9,297.8 1536.9,296.1 1537.3,294.4 1537.3,292.7 1537.7,291.0 1538.2,289.3 1538.4,287.6 1538.5,285.9 1538.5,284.2 1538.9,282.5 1539.1,280.8 1539.4,279.1 1539.7,277.4 1540.1,275.7 1540.3,274.0 1540.6,272.3 1540.8,270.6 1540.9,268.9 1541.0,267.2 1541.6,265.5 1542.3,263.8 1543.2,262.1 1543.8,260.4 1544.1,258.7 1545.6,257.0 1545.8,255.3 1546.0,253.6 1546.6,251.9 1548.3,250.2 1548.6,248.5 1550.4,246.8 1551.0,245.1 1551.3,243.4 1551.6,241.7 1551.8,240.0 1551.9,238.3 1552.7,236.6 1553.3,234.9 1553.4,233.2 1553.6,231.5 1554.1,229.8 1554.7,228.1 1555.1,226.4 1555.6,224.7 1556.0,223.0 1556.1,221.3 1556.2,219.6 1557.0,217.9 1557.2,216.2 1557.6,214.5 1557.8,212.8 1558.4,211.1 1558.6,209.4 1558.8,207.7 1559.2,206.0 1559.4,204.3 1561.1,202.6 1561.3,200.9 1561.5,199.2 1562.2,197.5 1563.6,195.8 1563.7,194.1 1563.7,192.4 1565.8,190.7 1566.4,189.0 1567.0,187.3 1568.3,185.6 1569.0,183.9 1570.8,182.2 1571.6,180.5 1571.7,178.8 1571.9,177.1 1572.1,175.4 1572.3,173.7 1575.9,172.0 1585.1,170.3 1587.2,168.6 1589.8,166.9 1591.0,165.2 1592.2,163.5 1592.3,161.8 1592.8,160.1 1595.3,158.4 1595.5,156.7 1597.1,155.0 1599.3,153.3 1601.5,151.6 1601.5,149.9 1604.4,148.2 1605.2,146.5 1607.6,144.8 1610.0,143.1 1614.1,141.4 1618.0,139.7 1618.2,138.0 1622.5,136.3 1625.8,134.6 1627.3,132.9 1627.6,131.2 1628.5,129.5 1629.2,127.8 1631.5,126.1 1631.6,124.4 1631.8,122.7 1632.3,121.0 1634.5,119.3 1638.5,117.6 1641.7,115.9 1642.3,114.2 1646.4,112.5 1656.2,110.8 1657.5,109.1 1661.1,107.4 1667.0,105.7 1671.8,104.0 1673.2,102.3 1675.0,100.6 1675.8,98.9 1678.0,97.2 1682.3,95.5 1683.9,93.8 1685.1,92.1 1685.1,90.4 1690.1,88.7 1690.1,87.1 1697.0,86.0 1703.7,85.0 1709.0,84.0 1714.7,83.3 1721.1,81.2 1748.8,79.4 1760.5,77.2 1770.6,75.6 1820.6,73.6 1888.1,71.6 1908.8,69.3 1947.2,67.3 1973.7,65.4"/>
<use href="#c12_31f77b4" x="1480.5" y="563.0"/>
<use href="#c12_31f77b4" x="1480.7" y="561.3"/>
<use href="#c12_31f77b4" x="1480.9" y="559.6"/>
<use href="#c12_31f77b4" x="1481.0" y="557.9"/>
<use href="#c12_31f77b4" x="1481.1" y="556.2"/>
<use href="#c12_31f77b4" x="1481.4" y="554.5"/>
<use href="#c12_31f77b4" x="1481.6" y="552.8"/>
<use href="#c12_31f77b4" x="1482.1" y="551.1"/>
<use href="#c12_31f77b4" x="1482.2" y="549.4"/>
<use href="#c12_31f77b4" x="1482.2" y="547.7"/>
<use href="#c12_31f77b4" x="1482.4" y="546.0"/>
<use href="#c12_31f77b4" x="1482.4" y="544.3"/>
<use href="#c12_31f77b4" x="1482.9" y="542.6"/>
<use href="#c12_31f77b4" x="1483.2" y="540.9"/>
<use href="#c12_31f77b4" x="1483.2" y="539.2"/>
<use href="#c12_31f77b4" x="1483.4" y="537.5"/>
<use href="#c12_31f77b4" x="1483.5" y="535.8"/>
<use href="#c12_31f77b4" x="1483.9" y="534.1"/>
<use href="#c12_31f77b4" x="1484.4" y="532.4"/>
<use href="#c12_31f77b4" x="1484.6" y="530.7"/>
<use href="#c12_31f77b4" x="1484.9" y="529.0"/>
<use href="#c12_31f77b4" x="1484.9" y="527.3"/>
<use href="#c12_31f77b4" x="1485.1" y="525.6"/>
<use href="#c12_31f77b4" x="1485.2" y="523.9"/>
<use href="#c12_31f77b4" x="1485.4" y="522.2"/>
<use href="#c12_31f77b4" x="1485.8" y="520.5"/>
<use href="#c12_31f77b4" x="1486.1" y="518.8"/>
<use href="#c12_31f77b4" x="1486.6" y="517.1"/>
<use href="#c12_31f77b4" x="1486.7" y="515.4"/>
<use href="#c12_31f77b4" x="1486.9" y="513.7"/>
<use href="#c12_31f77b4" x="1487.2" y="512.0"/>
<use href="#c12_31f77b4" x="1487.3" y="510.3"/>
<use href="#c12_31f77b4" x="1487.5" y="508.6"/>
<use href="#c12_31f77b4" x="1487.6" y="506.9"/>
<use href="#c12_31f77b4" x="1488.1" y="505.2"/>
<use href="#c12_31f77b4" x="1488.2" y="503.5"/>
<use href="#c12_31f77b4" x="1488.8" y="501.8"/>
<use href="#c12_31f77b4" x="1488.9" y="500.1"/>
<use href="#c12_31f77b4" x="1488.9" y="498.4"/>
<use href="#c12_31f77b4" x="1489.0" y="496.7"/>
<use href="#c12_31f77b4" x="1489.4" y="495.0"/>
<use href="#c12_31f77b4" x="1489.9" y="493.3"/>
<use href="#c12_31f77b4" x="1490.0" y="491.6"/>
<use href="#c12_31f77b4" x="1490.2" y="489.9"/>
<use href="#c12_31f77b4" x="1490.3" y="488.2"/>
<use href="#c12_31f77b4" x="1490.8" y="486.5"/>
<use href="#c12_31f77b4" x="1491.1" y="484.8"/>
<use href="#c12_31f77b4" x="1491.2" y="483.1"/>
<use href="#c12_31f77b4" x="1491.4" y="481.4"/>
<use href="#c12_31f77b4" x="1491.7" y="479.7"/>
<use href="#c12_31f77b4" x="1491.9" y="478.0"/>
<use href="#c12_31f77b4" x="1492.2" y="476.3"/>
<use href="#c12_31f77b4" x="1492.5" y="474.6"/>
<use href="#c12_31f77b4" x="1493.1" y="472.9"/>
<use href="#c12_31f77b4" x="1493.2" y="471.2"/>
<use href="#c12_31f77b4" x="1493.6" y="469.5"/>
<use href="#c12_31f77b4" x="1493.6" y="467.8"/>
<use href="#c12_31f77b4" x="1493.7" y="466.1"/>
<use href="#c12_31f77b4" x="1493.9" y="464.4"/>
<use href="#c12_31f77b4" x="1494.7" y="462.7"/>
<use href="#c12_31f77b4" x="1494.8" y="461.0"/>
<use href="#c12_31f77b4" x="1494.8" y="459.3"/>
<use href="#c12_31f77b4" x="1494.8" y="457.6"/>
<use href="#c12_31f77b4" x="1495.4" y="455.9"/>
<use href="#c12_31f77b4" x="1495.8" y="454.2"/>
<use href="#c12_31f77b4" x="1495.9" y="452.5"/>
<use href="#c12_31f77b4" x="1496.0" y="450.8"/>
<use href="#c12_31f77b4" x="1496.5" y="449.1"/>
<use href="#c12_31f77b4" x="1496.8" y="447.4"/>
<use href="#c12_31f77b4" x="1496.9" y="445.7"/>
<use href="#c12_31f77b4" x="1497.0" y="444.0"/>
<use href="#c12_31f77b4" x="1497.3" y="442.3"/>
<use href="#c12_31f77b4" x="1497.7" y="440.6"/>
<use href="#c12_31f77b4" x="1498.1" y="438.9"/>
<use href="#c12_31f77b4" x="1498.1" y="437.2"/>
<use href="#c12_31f77b4" x="1498.8" y="435.5"/>
<use href="#c12_31f77b4" x="1499.0" y="433.8"/>
<use href="#c12_31f77b4" x="1499.1" y="432.1"/>
<use href="#c12_31f77b4" x="1499.2" y="430.4"/>
<use href="#c12_31f77b4" x="1499.8" y="428.7"/>
<use href="#c12_31f77b4" x="1500.0" y="427.0"/>
<use href="#c12_31f77b4" x="1500.3" y="425.3"/>
<use href="#c12_31f77b4" x="1500.5" y="423.6"/>
<use href="#c12_31f77b4" x="1500.6" y="421.9"/>
<use href="#c12_31f77b4" x="1501.2" y="420.2"/>
<use href="#c12_31f77b4" x="1501.2" y="418.5"/>
<use href="#c12_31f77b4" x="1501.9" y="416.8"/>
<use href="#c12_31f77b4" x="1501.9" y="415.1"/>
<use href="#c12_31f77b4" x="1501.9" y="413.4"/>
<use href="#c12_31f77b4" x="1502.2" y="411.7"/>
<use href="#c12_31f77b4" x="1502.7" y="410.0"/>
<use href="#c12_31f77b4" x="1503.1" y="408.3"/>
<use href="#c12_31f77b4" x="1503.3" y="406.6"/>
<use href="#c12_31f77b4" x="1503.6" y="404.9"/>
<use href="#c12_31f77b4" x="1503.8" y="403.2"/>
<use href="#c12_31f77b4" x="1503.9" y="401.5"/>
<use href="#c12_31f77b4" x="1504.4" y="399.8"/>
<use href="#c12_31f77b4" x="1504.7" y="398.1"/>
<use href="#c12_31f77b4" x="1504.8" y="396.4"/>
<use href="#c12_31f77b4" x="1505.0" y="394.7"/>
<use href="#c12_31f77b4" x="1505.5" y="393.0"/>
<use href="#c12_31f77b4" x="1506.1" y="391.3"/>
<use href="#c12_31f77b4" x="1506.4" y="389.6"/>
<use href="#c12_31f77b4" x="1506.6" y="387.9"/>
<use href="#c12_31f77b4" x="1507.1" y="386.2"/>
<use href="#c12_31f77b4" x="1507.2" y="384.5"/>
<use href="#c12_31f77b4" x="1507.3" y="382.8"/>
<use href="#c12_31f77b4" x="1507.3" y="381.1"/>
<use href="#c12_31f77b4" x="1508.2" y="379.4"/>
<use href="#c12_31f77b4" x="1508.3" y="377.7"/>
<use href="#c12_31f77b4" x="1508.6" y="376.0"/>
<use href="#c12_31f77b4" x="1509.5" y="374.3"/>
<use href="#c12_31f77b4" x="1509.6" y="372.6"/>
<use href="#c12_31f77b4" x="1510.1" y="370.9"/>
<use href="#c12_31f77b4" x="1510.5" y="369.2"/>
<use href="#c12_31f77b4" x="1510.8" y="367.5"/>
<use href="#c12_31f77b4" x="1511.1" y="365.8"/>
<use href="#c12_31f77b4" x="1511.9" y="364.1"/>
<use href="#c12_31f77b4" x="1512.5" y="362.4"/>
<use href="#c12_31f77b4" x="1513.1" y="360.7"/>
<use href="#c12_31f77b4" x="1513.7" y="359.0"/>
<use href="#c12_31f77b4" x="1514.2" y="357.3"/>
<use href="#c12_31f77b4" x="1514.7" y="355.6"/>
<use href="#c12_31f77b4" x="1514.9" y="353.9"/>
<use href="#c12_31f77b4" x="1516.1" y="352.2"/>
<use href="#c12_31f77b4" x="1516.9" y="350.5"/>
<use href="#c12_31f77b4" x="1516.9" y="348.8"/>
<use href="#c12_31f77b4" x="1516.9" y="347.1"/>
<use href="#c12_31f77b4" x="1518.4" y="345.4"/>
<use href="#c12_31f77b4" x="1518.9" y="343.7"/>
<use href="#c12_31f77b4" x="1520.0" y="342.0"/>
<use href="#c12_31f77b4" x="1520.7" y="340.3"/>
<use href="#c12_31f77b4" x="1521.0" y="338.6"/>
<use href="#c12_31f77b4" x="1521.9" y="336.9"/>
<use href="#c12_31f77b4" x="1522.7" y="335.2"/>
<use href="#c12_31f77b4" x="1523.3" y="333.5"/>
<use href="#c12_31f77b4" x="1524.7" y="331.8"/>
<use href="#c12_31f77b4" x="1524.7" y="330.1"/>
<use href="#c12_31f77b4" x="1525.4" y="328.4"/>
<use href="#c12_31f77b4" x="1525.7" y="326.7"/>
<use href="#c12_31f77b4" x="1526.7" y="325.0"/>
<use href="#c12_31f77b4" x="1528.3" y="323.3"/>
<use href="#c12_31f77b4" x="1528.7" y="321.6"/>
<use href="#c12_31f77b4" x="1529.7" y="319.9"/>
<use href="#c12_31f77b4" x="1530.3" y="318.2"/>
<use href="#c12_31f77b4" x="1530.5" y="316.5"/>
<use href="#c12_31f77b4" x="1530.8" y="314.8"/>
<use href="#c12_31f77b4" x="1532.5" y="313.1"/>
<use href="#c12_31f77b4" x="1532.5" y="311.4"/>
<use href="#c12_31f77b4" x="1532.6" y="309.7"/>
<use href="#c12_31f77b4" x="1533.9" y="308.0"/>
<use href="#c12_31f77b4" x="1533.9" y="306.3"/>
<use href="#c12_31f77b4" x="1534.5" y="304.6"/>
<use href="#c12_31f77b4" x="1534.6" y="302.9"/>
<use href="#c12_31f77b4" x="1536.4" y="301.2"/>
<use href="#c12_31f77b4" x="1536.8" y="299.5"/>
<use href="#c12_31f77b4" x="1536.9" y="297.8"/>
<use href="#c12_31f77b4" x="1536.9" y="296.1"/>
<use href="#c12_31f77b4" x="1537.3" y="294.4"/>
<use href="#c12_31f77b4" x="1537.3" y="292.7"/>
<use href="#c12_31f77b4" x="1537.7" y="291.0"/>
<use href="#c12_31f77b4" x="1538.2" y="289.3"/>
<use href="#c12_31f77b4" x="1538.4" y="287.6"/>
<use href="#c12_31f77b4" x="1538.5" y="285.9"/>
<use href="#c12_31f77b4" x="1538.5" y="284.2"/>
<use href="#c12_31f77b4" x="1538.9" y="282.5"/>
<use href="#c12_31f77b4" x="1539.1" y="280.8"/>
<use href="#c12_31f77b4" x="1539.4" y="279.1"/>
<use href="#c12_31f77b4" x="1539.7" y="277.4"/>
<use href="#c12_31f77b4" x="1540.1" y="275.7"/>
<use href="#c12_31f77b4" x="1540.3" y="274.0"/>
<use href="#c12_31f77b4" x="1540.6" y="272.3"/>
<use href="#c12_31f77b4" x="1540.8" y="270.6"/>
<use href="#c12_31f77b4" x="1540.9" y="268.9"/>
<use href="#c12_31f77b4" x="1541.0" y="267.2"/>
<use href="#c12_31f77b4" x="1541.6" y="265.5"/>
<use href="#c12_31f77b4" x="1542.3" y="263.8"/>
<use href="#c12_31f77b4" x="1543.2" y="262.1"/>
<use href="#c12_31f77b4" x="1543.8" y="260.4"/>
<use href="#c12_31f77b4" x="1544.1" y="258.7"/>
<use href="#c12_31f77b4" x="1545.6" y="257.0"/>
<use href="#c12_31f77b4" x="1545.8" y="255.3"/>
<use href="#c12_31f77b4" x="1546.0" y="253.6"/>
<use href="#c12_31f77b4" x="1546.6" y="251.9"/>
<use href="#c12_31f77b4" x="1548.3" y="250.2"/>
<use href="#c12_31f77b4" x="1548.6" y="248.5"/>
<use href="#c12_31f77b4" x="1550.4" y="246.8"/>
<use href="#c12_31f77b4" x="1551.0" y="245.1"/>
<use href="#c12_31f77b4" x="1551.3" y="243.4"/>
<use href="#c12_31f77b4" x="1551.6" y="241.7"/>
<use href="#c12_31f77b4" x="1551.8" y="240.0"/>
<use href="#c12_31f77b4" x="1551.9" y="238.3"/>
<use href="#c12_31f77b4" x="1552.7" y="236.6"/>
<use href="#c12_31f77b4" x="1553.3" y="234.9"/>
<use href="#c12_31f77b4" x="1553.4" y="233.2"/>
<use href="#c12_31f77b4" x="1553.6" y="231.5"/>
<use href="#c12_31f77b4" x="1554.1" y="229.8"/>
<use href="#c12_31f77b4" x="1554.7" y="228.1"/>
<use href="#c12_31f77b4" x="1555.1" y="226.4"/>
<use href="#c12_31f77b4" x="1555.6" y="224.7"/>
<use href="#c12_31f77b4" x="1556.0" y="223.0"/>
<use href="#c12_31f77b4" x="1556.1" y="221.3"/>
<use href="#c12_31f77b4" x="1556.2" y="219.6"/>
<use href="#c12_31f77b4" x="1557.0" y="217.9"/>
<use href="#c12_31f77b4" x="1557.2" y="216.2"/>
<use href="#c12_31f77b4" x="1557.6" y="214.5"/>
<use href="#c12_31f77b4" x="1557.8" y="212.8"/>
<use href="#c12_31f77b4" x="1558.4" y="211.1"/>
<use href="#c12_31f77b4" x="1558.6" y="209.4"/>
<use href="#c12_31f77b4" x="1558.8" y="207.7"/>
<use href="#c12_31f77b4" x="1559.2" y="206.0"/>
<use href="#c12_31f77b4" x="1559.4" y="204.3"/>
<use href="#c12_31f77b4" x="1561.1" y="202.6"/>
<use href="#c12_31f77b4" x="1561.3" y="200.9"/>
<use href="#c12_31f77b4" x="1561.5" y="199.2"/>
<use href="#c12_31f77b4" x="1562.2" y="197.5"/>
<use href="#c12_31f77b4" x="1563.6" y="195.8"/>
<use href="#c12_31f77b4" x="1563.7" y="194.1"/>
<use href="#c12_31f77b4" x="1563.7" y="192.4"/>
<use href="#c12_31f77b4" x="1565.8" y="190.7"/>
<use href="#c12_31f77b4" x="1566.4" y="189.0"/>
<use href="#c12_31f77b4" x="1567.0" y="187.3"/>
<use href="#c12_31f77b4" x="1568.3" y="185.6"/>
<use href="#c12_31f77b4" x="1569.0" y="183.9"/>
<use href="#c12_31f77b4" x="1570.8" y="182.2"/>
<use href="#c12_31f77b4" x="1571.6" y="180.5"/>
<use href="#c12_31f77b4" x="1571.7" y="178.8"/>
<use href="#c12_31f77b4" x="1571.9" y="177.1"/>
<use href="#c12_31f77b4" x="1572.1" y="175.4"/>
<use href="#c12_31f77b4" x="1572.3" y="173.7"/>
<use href="#c12_31f77b4" x="1575.9" y="172.0"/>
<use href="#c12_31f77b4" x="1585.1" y="170.3"/>
<use href="#c12_31f77b4" x="1587.2" y="168.6"/>
<use href="#c12_31f77b4" x="1589.8" y="166.9"/>
<use href="#c12_31f77b4" x="1591.0" y="165.2"/>
<use href="#c12_31f77b4" x="1592.2" y="163.5"/>
<use href="#c12_31f77b4" x="1592.3" y="161.8"/>
<use href="#c12_31f77b4" x="1592.8" y="160.1"/>
<use href="#c12_31f77b4" x="1595.3" y="158.4"/>
<use href="#c12_31f77b4" x="1595.5" y="156.7"/>
<use href="#c12_31f77b4" x="1597.1" y="155.0"/>
<use href="#c12_31f77b4" x="1599.3" y="153.3"/>
<use href="#c12_31f77b4" x="1601.5" y="151.6"/>
<use href="#c12_31f77b4" x="1601.5" y="149.9"/>
<use href="#c12_31f77b4" x="1604.4" y="148.2"/>
<use href="#c12_31f77b4" x="1605.2" y="146.5"/>
<use href="#c12_31f77b4" x="1607.6" y="144.8"/>
<use href="#c12_31f77b4" x="1610.0" y="143.1"/>
<use href="#c12_31f77b4" x="1614.1" y="141.4"/>
<use href="#c12_31f77b4" x="1618.0" y="139.7"/>
<use href="#c12_31f77b4" x="1618.2" y="138.0"/>
<use href="#c12_31f77b4" x="1622.5" y="136.3"/>
<use href="#c12_31f77b4" x="1625.8" y="134.6"/>
<use href="#c12_31f77b4" x="1627.3" y="132.9"/>
<use href="#c12_31f77b4" x="1627.6" y="131.2"/>
<use href="#c12_31f77b4" x="1628.5" y="129.5"/>
<use href="#c12_31f77b4" x="1629.2" y="127.8"/>
<use href="#c12_31f77b4" x="1631.5" y="126.1"/>
<use href="#c12_31f77b4" x="1631.6" y="124.4"/>
<use href="#c12_31f77b4" x="1631.8" y="122.7"/>
<use href="#c12_31f77b4" x="1632.3" y="121.0"/>
<use href="#c12_31f77b4" x="1634.5" y="119.3"/>
<use href="#c12_31f77b4" x="1638.5" y="117.6"/>
<use href="#c12_31f77b4" x="1641.7" y="115.9"/>
<use href="#c12_31f77b4" x="1642.3" y="114.2"/>
<use href="#c12_31f77b4" x="1646.4" y="112.5"/>
<use href="#c12_31f77b4" x="1656.2" y="110.8"/>
<use href="#c12_31f77b4" x="1657.5" y="109.1"/>
<use href="#c12_31f77b4" x="1661.1" y="107.4"/>
<use href="#c12_31f77b4" x="1667.0" y="105.7"/>
<use href="#c12_31f77b4" x="1671.8" y="104.0"/>
<use href="#c12_31f77b4" x="1673.2" y="102.3"/>
<use href="#c12_31f77b4" x="1675.0" y="100.6"/>
<use href="#c12_31f77b4" x="1675.8" y="98.9"/>
<use href="#c12_31f77b4" x="1678.0" y="97.2"/>
<use href="#c12_31f77b4" x="1682.3" y="95.5"/>
<use href="#c12_31f77b4" x="1683.9" y="93.8"/>
<use href="#c12_31f77b4" x="1685.1" y="92.1"/>
<use href="#c12_31f77b4" x="1685.1" y="90.4"/>
<use href="#c12_31f77b4" x="1690.1" y="88.7"/>
<use href="#c12_31f77b4" x="1690.1" y="87.1"/>
<use href="#c12_31f77b4" x="1697.0" y="86.0"/>
<use href="#c12_31f77b4" x="1703.7" y="85.0"/>
<use href="#c12_31f77b4" x="1709.0" y="84.0"/>
<use href="#c12_31f77b4" x="1714.7" y="83.3"/>
<use href="#c12_31f77b4" x="1721.1" y="81.2"/>
<use href="#c12_31f77b4" x="1748.8" y="79.4"/>
<use href="#c12_31f77b4" x="1760.5" y="77.2"/>
<use href="#c12_31f77b4" x="1770.6" y="75.6"/>
<use href="#c12_31f77b4" x="1820.6" y="73.6"/>
<use href="#c12_31f77b4" x="1888.1" y="71.6"/>
<use href="#c12_31f77b4" x="1908.8" y="69.3"/>
<use href="#c12_31f77b4" x="1947.2" y="67.3"/>
<use href="#c12_31f77b4" x="1973.7" y="65.4"/>
<polyline fill="none" stroke="#ff7f0e" stroke-width="3.3" stroke-linejoin="round" points="1481.8,563.0 1481.8,560.5 1481.8,558.0 1481.8,555.5 1481.8,553.0 1481.8,550.5 1481.8,548.0 1481.8,545.5 1481.8,543.0 1481.8,540.5 1481.8,538.0 1481.8,535.5 1481.8,533.0 1481.8,530.5 1481.8,528.0 1481.8,525.5 1481.8,522.9 1481.8,520.4 1481.8,517.9 1481.8,515.4 1481.9,512.9 1481.9,510.4 1481.9,507.9 1481.9,505.4 1481.9,502.9 1481.9,500.4 1481.9,497.9 1481.9,495.4 1481.9,492.9 1481.9,490.4 1481.9,487.9 1481.9,485.4 1481.9,482.9 1481.9,480.4 1481.9,477.9 1481.9,475.4 1481.9,472.9 1481.9,470.4 1481.9,467.9 1481.9,465.4 1481.9,462.9 1481.9,460.4 1481.9,457.9 1481.9,455.4 1481.9,452.9 1481.9,450.4 1481.9,447.8 1481.9,445.3 1481.9,442.8 1481.9,440.3 1481.9,437.8 1481.9,435.3 1481.9,432.8 1481.9,430.3 1481.9,427.8 1481.9,425.3 1481.9,422.8 1481.9,420.3 1482.0,417.8 1482.0,415.3 1482.0,412.8 1482.0,410.3 1482.0,407.8 1482.0,405.3 1482.0,402.8 1482.0,400.3 1482.0,397.8 1482.0,395.3 1482.0,392.8 1482.0,390.3 1482.0,387.8 1482.0,385.3 1482.0,382.8 1482.0,380.3 1482.0,377.8 1482.0,375.3 1482.0,372.8 1482.0,370.2 1482.0,367.7 1482.0,365.2 1482.0,362.7 1482.0,360.2 1482.0,357.7 1482.0,355.2 1482.0,352.7 1482.0,350.2 1482.0,347.7 1482.0,345.2 1482.0,342.7 1482.0,340.2 1482.0,337.7 1482.0,335.2 1482.0,332.7 1482.0,330.2 1482.0,327.7 1482.0,325.2 1482.1,322.7 1482.1,320.2 1482.1,317.7 1482.1,315.2 1482.1,312.7 1482.1,310.2 1482.1,307.7 1482.1,305.2 1482.1,302.7 1482.1,300.2 1482.1,297.7 1482.1,295.2 1482.1,292.6 1482.1,290.1 1482.1,287.6 1482.1,285.1 1482.1,282.6 1482.1,280.1 1482.1,277.6 1482.1,275.1 1482.1,272.6 1482.1,270.1 1482.1,267.6 1482.1,265.1 1482.1,262.6 1482.1,260.1 1482.1,257.6 1482.1,255.1 1482.1,252.6 1482.1,250.1 1482.1,247.6 1482.1,245.1 1482.1,242.6 1482.1,240.1 1482.1,237.6 1482.1,235.1 1482.1,232.6 1482.1,230.1 1482.2,227.6 1482.2,225.1 1482.2,222.6 1482.2,220.1 1482.2,217.5 1482.2,215.0 1482.2,212.5 1482.2,210.0 1482.2,207.5 1482.2,205.0 1482.2,202.5 1482.2,200.0 1482.2,197.5 1482.2,195.0 1482.2,192.5 1482.2,190.0 1482.2,187.5 1482.2,185.0 1482.2,182.5 1482.2,180.0 1482.3,177.5 1482.4,175.0 1482.5,172.5 1482.6,170.0 1482.7,167.5 1482.8,165.0 1482.9,162.5 1483.0,160.0 1483.1,157.5 1483.2,155.0 1483.3,152.5 1483.3,150.0 1483.4,147.5 1483.5,145.0 1483.6,142.5 1483.7,140.0 1483.8,137.5 1483.9,135.0 1484.0,132.5 1484.1,130.0 1484.2,127.5 1484.3,125.0 1484.4,122.5 1484.5,120.0 1484.9,117.5 1485.4,115.0 1485.8,112.5 1486.2,110.0 1486.7,107.5 1487.1,105.0 1487.6,102.5 1488.0,100.0 1488.9,97.7 1489.8,95.3 1490.8,93.0 1491.7,90.7 1492.6,88.3 1493.5,86.0 1494.4,83.2 1495.2,80.5 1496.1,77.8 1497.0,75.0 1498.0,71.5 1499.0,68.0 1501.0,66.5 1504.0,66.5 1517.8,65.5 1519.3,65.5"/>
<use href="#s12_3ff7f0e" x="1481.8" y="563.0"/>
<use href="#s12_3ff7f0e" x="1481.8" y="560.5"/>
<use href="#s12_3ff7f0e" x="1481.8" y="558.0"/>
<use href="#s12_3ff7f0e" x="1481.8" y="555.5"/>
<use href="#s12_3ff7f0e" x="1481.8" y="553.0"/>
<use href="#s12_3ff7f0e" x="1481.8" y="550.5"/>
<use href="#s12_3ff7f0e" x="1481.8" y="548.0"/>
<use href="#s12_3ff7f0e" x="1481.8" y="545.5"/>
<use href="#s12_3ff7f0e" x="1481.8" y="543.0"/>
<use href="#s12_3ff7f0e" x="1481.8" y="540.5"/>
<use href="#s12_3ff7f0e" x="1481.8" y="538.0"/>
<use href="#s12_3ff7f0e" x="1481.8" y="535.5"/>
<use href="#s12_3ff7f0e" x="1481.8" y="533.0"/>
<use href="#s12_3ff7f0e" x="1481.8" y="530.5"/>
<use href="#s12_3ff7f0e" x="1481.8" y="528.0"/>
<use href="#s12_3ff7f0e" x="1481.8" y="525.5"/>
<use href="#s12_3ff7f0e" x="1481.8" y="522.9"/>
<use href="#s12_3ff7f0e" x="1481.8" y="520.4"/>
<use href="#s12_3ff7f0e" x="1481.8" y="517.9"/>
<use href="#s12_3ff7f0e" x="1481.8" y="515.4"/>
<use href="#s12_3ff7f0e" x="1481.9" y="512.9"/>
<use href="#s12_3ff7f0e" x="1481.9" y="510.4"/>
<use href="#s12_3ff7f0e" x="1481.9" y="507.9"/>
<use href="#s12_3ff7f0e" x="1481.9" y="505.4"/>
<use href="#s12_3ff7f0e" x="1481.9" y="502.9"/>
<use href="#s12_3ff7f0e" x="1481.9" y="500.4"/>
<use href="#s12_3ff7f0e" x="1481.9" y="497.9"/>
<use href="#s12_3ff7f0e" x="1481.9" y="495.4"/>
<use href="#s12_3ff7f0e" x="1481.9" y="492.9"/>
<use href="#s12_3ff7f0e" x="1481.9" y="490.4"/>
<use href="#s12_3ff7f0e" x="1481.9" y="487.9"/>
<use href="#s12_3ff7f0e" x="1481.9" y="485.4"/>
<use href="#s12_3ff7f0e" x="1481.9" y="482.9"/>
<use href="#s12_3ff7f0e" x="1481.9" y="480.4"/>
<use href="#s12_3ff7f0e" x="1481.9" y="477.9"/>
<use href="#s12_3ff7f0e" x="1481.9" y="475.4"/>
<use href="#s12_3ff7f0e" x="1481.9" y="472.9"/>
<use href="#s12_3ff7f0e" x="1481.9" y="470.4"/>
<use href="#s12_3ff7f0e" x="1481.9" y="467.9"/>
<use href="#s12_3ff7f0e" x="1481.9" y="465.4"/>
<use href="#s12_3ff7f0e" x="1481.9" y="462.9"/>
<use href="#s12_3ff7f0e" x="1481.9" y="460.4"/>
<use href="#s12_3ff7f0e" x="1481.9" y="457.9"/>
<use href="#s12_3ff7f0e" x="1481.9" y="455.4"/>
<use href="#s12_3ff7f0e" x="1481.9" y="452.9"/>
<use href="#s12_3ff7f0e" x="1481.9" y="450.4"/>
<use href="#s12_3ff7f0e" x="1481.9" y="447.8"/>
<use href="#s12_3ff7f0e" x="1481.9" y="445.3"/>
<use href="#s12_3ff7f0e" x="1481.9" y="442.8"/>
<use href="#s12_3ff7f0e" x="1481.9" y="440.3"/>
<use href="#s12_3ff7f0e" x="1481.9" y="437.8"/>
<use href="#s12_3ff7f0e" x="1481.9" y="435.3"/>
<use href="#s12_3ff7f0e" x="1481.9" y="432.8"/>
<use href="#s12_3ff7f0e" x="1481.9" y="430.3"/>
<use href="#s12_3ff7f0e" x="1481.9" y="427.8"/>
<use href="#s12_3ff7f0e" x="1481.9" y="425.3"/>
<use href="#s12_3ff7f0e" x="1481.9" y="422.8"/>
<use href="#s12_3ff7f0e" x="1481.9" y="420.3"/>
<use href="#s12_3ff7f0e" x="1482.0" y="417.8"/>
<use href="#s12_3ff7f0e" x="1482.0" y="415.3"/>
<use href="#s12_3ff7f0e" x="1482.0" y="412.8"/>
<use href="#s12_3ff7f0e" x="1482.0" y="410.3"/>
<use href="#s12_3ff7f0e" x="1482.0" y="407.8"/>
<use href="#s12_3ff7f0e" x="1482.0" y="405.3"/>
<use href="#s12_3ff7f0e" x="1482.0" y="402.8"/>
<use href="#s12_3ff7f0e" x="1482.0" y="400.3"/>
<use href="#s12_3ff7f0e" x="1482.0" y="397.8"/>
<use href="#s12_3ff7f0e" x="1482.0" y="395.3"/>
<use href="#s12_3ff7f0e" x="1482.0" y="392.8"/>
<use href="#s12_3ff7f0e" x="1482.0" y="390.3"/>
<use href="#s12_3ff7f0e" x="1482.0" y="387.8"/>
<use href="#s12_3ff7f0e" x="1482.0" y="385.3"/>
<use href="#s12_3ff7f0e" x="1482.0" y="382.8"/>
<use href="#s12_3ff7f0e" x="1482.0" y="380.3"/>
<use href="#s12_3ff7f0e" x="1482.0" y="377.8"/>
<use href="#s12_3ff7f0e" x="1482.0" y="375.3"/>
<use href="#s12_3ff7f0e" x="1482.0" y="372.8"/>
<use href="#s12_3ff7f0e" x="1482.0" y="370.2"/>
<use href="#s12_3ff7f0e" x="1482.0" y="367.7"/>
<use href="#s12_3ff7f0e" x="1482.0" y="365.2"/>
<use href="#s12_3ff7f0e" x="1482.0" y="362.7"/>
<use href="#s12_3ff7f0e" x="1482.0" y="360.2"/>
<use href="#s12_3ff7f0e" x="1482.0" y="357.7"/>
<use href="#s12_3ff7f0e" x="1482.0" y="355.2"/>
<use href="#s12_3ff7f0e" x="1482.0" y="352.7"/>
<use href="#s12_3ff7f0e" x="1482.0" y="350.2"/>
<use href="#s12_3ff7f0e" x="1482.0" y="347.7"/>
<use href="#s12_3ff7f0e" x="1482.0" y="345.2"/>
<use href="#s12_3ff7f0e" x="1482.0" y="342.7"/>
<use href="#s12_3ff7f0e" x="1482.0" y="340.2"/>
<use href="#s12_3ff7f0e" x="1482.0" y="337.7"/>
<use href="#s12_3ff7f0e" x="1482.0" y="335.2"/>
<use href="#s12_3ff7f0e" x="1482.0" y="332.7"/>
<use href="#s12_3ff7f0e" x="1482.0" y="330.2"/>
<use href="#s12_3ff7f0e" x="1482.0" y="327.7"/>
<use href="#s12_3ff7f0e" x="1482.0" y="325.2"/>
<use href="#s12_3ff7f0e" x="1482.1" y="322.7"/>
<use href="#s12_3ff7f0e" x="1482.1" y="320.2"/>
<use href="#s12_3ff7f0e" x="1482.1" y="317.7"/>
<use href="#s12_3ff7f0e" x="1482.1" y="315.2"/>
<use href="#s12_3ff7f0e" x="1482.1" y="312.7"/>
<use href="#s12_3ff7f0e" x="1482.1" y="310.2"/>
<use href="#s12_3ff7f0e" x="1482.1" y="307.7"/>
<use href="#s12_3ff7f0e" x="1482.1" y="305.2"/>
<use href="#s12_3ff7f0e" x="1482.1" y="302.7"/>
<use href="#s12_3ff7f0e" x="1482.1" y="300.2"/>
<use href="#s12_3ff7f0e" x="1482.1" y="297.7"/>
<use href="#s12_3ff7f0e" x="1482.1" y="295.2"/>
<use href="#s12_3ff7f0e" x="1482.1" y="292.6"/>
<use href="#s12_3ff7f0e" x="1482.1" y="290.1"/>
<use href="#s12_3ff7f0e" x="1482.1" y="287.6"/>
<use href="#s12_3ff7f0e" x="1482.1" y="285.1"/>
<use href="#s12_3ff7f0e" x="1482.1" y="282.6"/>
<use href="#s12_3ff7f0e" x="1482.1" y="280.1"/>
<use href="#s12_3ff7f0e" x="1482.1" y="277.6"/>
<use href="#s12_3ff7f0e" x="1482.1" y="275.1"/>
<use href="#s12_3ff7f0e" x="1482.1" y="272.6"/>
<use href="#s12_3ff7f0e" x="1482.1" y="270.1"/>
<use href="#s12_3ff7f0e" x="1482.1" y="267.6"/>
<use href="#s12_3ff7f0e" x="1482.1" y="265.1"/>
<use href="#s12_3ff7f0e" x="1482.1" y="262.6"/>
<use href="#s12_3ff7f0e" x="1482.1" y="260.1"/>
<use href="#s12_3ff7f0e" x="1482.1" y="257.6"/>
<use href="#s12_3ff7f0e" x="1482.1" y="255.1"/>
<use href="#s12_3ff7f0e" x="1482.1" y="252.6"/>
<use href="#s12_3ff7f0e" x="1482.1" y="250.1"/>
<use href="#s12_3ff7f0e" x="1482.1" y="247.6"/>
<use href="#s12_3ff7f0e" x="1482.1" y="245.1"/>
<use href="#s12_3ff7f0e" x="1482.1" y="242.6"/>
<use href="#s12_3ff7f0e" x="1482.1" y="240.1"/>
<use href="#s12_3ff7f0e" x="1482.1" y="237.6"/>
<use href="#s12_3ff7f0e" x="1482.1" y="235.1"/>
<use href="#s12_3ff7f0e" x="1482.1" y="232.6"/>
<use href="#s12_3ff7f0e" x="1482.1" y="230.1"/>
<use href="#s12_3ff7f0e" x="1482.2" y="227.6"/>
<use href="#s12_3ff7f0e" x="1482.2" y="225.1"/>
<use href="#s12_3ff7f0e" x="1482.2" y="222.6"/>
<use href="#s12_3ff7f0e" x="1482.2" y="220.1"/>
<use href="#s12_3ff7f0e" x="1482.2" y="217.5"/>
<use href="#s12_3ff7f0e" x="1482.2" y="215.0"/>
<use href="#s12_3ff7f0e" x="1482.2" y="212.5"/>
<use href="#s12_3ff7f0e" x="1482.2" y="210.0"/>
<use href="#s12_3ff7f0e" x="1482.2" y="207.5"/>
<use href="#s12_3ff7f0e" x="1482.2" y="205.0"/>
<use href="#s12_3ff7f0e" x="1482.2" y="202.5"/>
<use href="#s12_3ff7f0e" x="1482.2" y="200.0"/>
<use href="#s12_3ff7f0e" x="1482.2" y="197.5"/>
<use href="#s12_3ff7f0e" x="1482.2" y="195.0"/>
<use href="#s12_3ff7f0e" x="1482.2" y="192.5"/>
<use href="#s12_3ff7f0e" x="1482.2" y="190.0"/>
<use href="#s12_3ff7f0e" x="1482.2" y="187.5"/>
<use href="#s12_3ff7f0e" x="1482.2" y="185.0"/>
<use href="#s12_3ff7f0e" x="1482.2" y="182.5"/>
<use href="#s12_3ff7f0e" x="1482.2" y="180.0"/>
<use href="#s12_3ff7f0e" x="1482.3" y="177.5"/>
<use href="#s12_3ff7f0e" x="1482.4" y="175.0"/>
<use href="#s12_3ff7f0e" x="1482.5" y="172.5"/>
<use href="#s12_3ff7f0e" x="1482.6" y="170.0"/>
<use href="#s12_3ff7f0e" x="1482.7" y="167.5"/>
<use href="#s12_3ff7f0e" x="1482.8" y="165.0"/>
<use href="#s12_3ff7f0e" x="1482.9" y="162.5"/>
<use href="#s12_3ff7f0e" x="1483.0" y="160.0"/>
<use href="#s12_3ff7f0e" x="1483.1" y="157.5"/>
<use href="#s12_3ff7f0e" x="1483.2" y="155.0"/>
<use href="#s12_3ff7f0e" x="1483.3" y="152.5"/>
<use href="#s12_3ff7f0e" x="1483.3" y="150.0"/>
<use href="#s12_3ff7f0e" x="1483.4" y="147.5"/>
<use href="#s12_3ff7f0e" x="1483.5" y="145.0"/>
<use href="#s12_3ff7f0e" x="1483.6" y="142.5"/>
<use href="#s12_3ff7f0e" x="1483.7" y="140.0"/>
<use href="#s12_3ff7f0e" x="1483.8" y="137.5"/>
<use href="#s12_3ff7f0e" x="1483.9" y="135.0"/>
<use href="#s12_3ff7f0e" x="1484.0" y="132.5"/>
<use href="#s12_3ff7f0e" x="1484.1" y="130.0"/>
<use href="#s12_3ff7f0e" x="1484.2" y="127.5"/>
<use href="#s12_3ff7f0e" x="1484.3" y="125.0"/>
<use href="#s12_3ff7f0e" x="1484.4" y="122.5"/>
<use href="#s12_3ff7f0e" x="1484.5" y="120.0"/>
<use href="#s12_3ff7f0e" x="1484.9" y="117.5"/>
<use href="#s12_3ff7f0e" x="1485.4" y="115.0"/>
<use href="#s12_3ff7f0e" x="1485.8" y="112.5"/>
<use href="#s12_3ff7f0e" x="1486.2" y="110.0"/>
<use href="#s12_3ff7f0e" x="1486.7" y="107.5"/>
<use href="#s12_3ff7f0e" x="1487.1" y="105.0"/>
<use href="#s12_3ff7f0e" x="1487.6" y="102.5"/>
<use href="#s12_3ff7f0e" x="1488.0" y="100.0"/>
<use href="#s12_3ff7f0e" x="1488.9" y="97.7"/>
<use href="#s12_3ff7f0e" x="1489.8" y="95.3"/>
<use href="#s12_3ff7f0e" x="1490.8" y="93.0"/>
<use href="#s12_3ff7f0e" x="1491.7" y="90.7"/>
<use href="#s12_3ff7f0e" x="1492.6" y="88.3"/>
<use href="#s12_3ff7f0e" x="1493.5" y="86.0"/>
<use href="#s12_3ff7f0e" x="1494.4" y="83.2"/>
<use href="#s12_3ff7f0e" x="1495.2" y="80.5"/>
<use href="#s12_3ff7f0e" x="1496.1" y="77.8"/>
<use href="#s12_3ff7f0e" x="1497.0" y="75.0"/>
<use href="#s12_3ff7f0e" x="1498.0" y="71.5"/>
<use href="#s12_3ff7f0e" x="1499.0" y="68.0"/>
<use href="#s12_3ff7f0e" x="1501.0" y="66.5"/>
<use href="#s12_3ff7f0e" x="1504.0" y="66.5"/>
<use href="#s12_3ff7f0e" x="1517.8" y="65.5"/>
<use href="#s12_3ff7f0e" x="1519.3" y="65.5"/>
<polyline fill="none" stroke="#2ca02c" stroke-width="3.3" stroke-linejoin="round" points="1481.1,563.0 1481.3,560.5 1481.1,558.0 1481.2,555.5 1481.3,553.0 1481.1,550.5 1481.1,548.0 1481.2,545.5 1481.2,543.0 1481.3,540.5 1481.3,538.0 1481.1,535.5 1481.2,533.0 1481.2,530.5 1481.1,528.0 1481.3,525.5 1481.3,522.9 1481.3,520.4 1481.1,517.9 1481.3,515.4 1481.3,512.9 1481.2,510.4 1481.3,507.9 1481.2,505.4 1481.1,502.9 1481.1,500.4 1481.2,497.9 1481.1,495.4 1481.2,492.9 1481.3,490.4 1481.3,487.9 1481.3,485.4 1481.3,482.9 1481.2,480.4 1481.3,477.9 1481.2,475.4 1481.3,472.9 1481.3,470.4 1481.2,467.9 1481.3,465.4 1481.4,462.9 1481.2,460.4 1481.4,457.9 1481.1,455.4 1481.2,452.9 1481.2,450.4 1481.3,447.8 1481.4,445.3 1481.3,442.8 1481.2,440.3 1481.4,437.8 1481.2,435.3 1481.2,432.8 1481.4,430.3 1481.3,427.8 1481.3,425.3 1481.3,422.8 1481.4,420.3 1481.3,417.8 1481.4,415.3 1481.3,412.8 1481.4,410.3 1481.3,407.8 1481.3,405.3 1481.3,402.8 1481.2,400.3 1481.2,397.8 1481.3,395.3 1481.2,392.8 1481.4,390.3 1481.2,387.8 1481.2,385.3 1481.2,382.8 1481.4,380.3 1481.3,377.8 1481.2,375.3 1481.2,372.8 1481.2,370.2 1481.4,367.7 1481.3,365.2 1481.4,362.7 1481.4,360.2 1481.2,357.7 1481.3,355.2 1481.3,352.7 1481.4,350.2 1481.4,347.7 1481.4,345.2 1481.2,342.7 1481.4,340.2 1481.4,337.7 1481.5,335.2 1481.2,332.7 1481.2,330.2 1481.2,327.7 1481.2,325.2 1481.4,322.7 1481.4,320.2 1481.4,317.7 1481.4,315.2 1481.4,312.7 1481.3,310.2 1481.2,307.7 1481.2,305.2 1481.4,302.7 1481.2,300.2 1481.3,297.7 1481.3,295.2 1481.2,292.6 1481.3,290.1 1481.3,287.6 1481.4,285.1 1481.3,282.6 1481.3,280.1 1481.5,277.6 1481.4,275.1 1481.5,272.6 1481.4,270.1 1481.2,267.6 1481.3,265.1 1481.3,262.6 1481.4,260.1 1481.3,257.6 1481.4,255.1 1481.4,252.6 1481.3,250.1 1481.5,247.6 1481.2,245.1 1481.5,242.6 1481.3,240.1 1481.2,237.6 1481.3,235.1 1481.5,232.6 1481.5,230.1 1481.2,227.6 1481.4,225.1 1481.4,222.6 1481.5,220.1 1481.3,217.5 1481.4,215.0 1481.3,212.5 1481.5,210.0 1481.3,207.5 1481.5,205.0 1481.3,202.5 1481.3,200.0 1481.5,197.5 1481.4,195.0 1481.3,192.5 1481.4,190.0 1481.3,187.5 1481.5,185.0 1481.5,182.5 1481.5,180.0 1481.5,177.5 1481.4,175.0 1481.5,172.5 1481.6,170.0 1481.7,167.5 1481.6,165.0 1481.8,162.5 1481.6,160.0 1481.7,157.5 1481.8,155.0 1482.0,152.5 1482.0,150.0 1482.0,147.5 1482.2,145.0 1482.0,142.5 1482.1,140.0 1482.2,137.5 1482.3,135.0 1482.3,132.5 1482.4,130.0 1482.3,127.5 1482.4,125.0 1482.4,122.5 1482.6,120.0 1482.7,117.5 1482.9,115.0 1482.9,112.5 1483.1,110.0 1483.4,107.5 1483.5,105.0 1483.5,102.5 1483.8,100.0 1484.4,97.5 1484.6,95.0 1485.1,92.5 1485.5,90.0 1486.1,87.5 1486.6,85.0 1487.5,82.5 1488.6,80.0 1489.8,77.5 1490.9,75.0 1493.5,72.8 1495.9,70.5 1499.4,69.8 1502.9,69.0 1506.1,68.8 1509.1,68.7 1511.9,68.5 1661.4,67.0"/>
<use href="#u12_32ca02c" x="1481.1" y="563.0"/>
<use href="#u12_32ca02c" x="1481.3" y="560.5"/>
<use href="#u12_32ca02c" x="1481.1" y="558.0"/>
<use href="#u12_32ca02c" x="1481.2" y="555.5"/>
<use href="#u12_32ca02c" x="1481.3" y="553.0"/>
<use href="#u12_32ca02c" x="1481.1" y="550.5"/>
<use href="#u12_32ca02c" x="1481.1" y="548.0"/>
<use href="#u12_32ca02c" x="1481.2" y="545.5"/>
<use href="#u12_32ca02c" x="1481.2" y="543.0"/>
<use href="#u12_32ca02c" x="1481.3" y="540.5"/>
<use href="#u12_32ca02c" x="1481.3" y="538.0"/>
<use href="#u12_32ca02c" x="1481.1" y="535.5"/>
<use href="#u12_32ca02c" x="1481.2" y="533.0"/>
<use href="#u12_32ca02c" x="1481.2" y="530.5"/>
<use href="#u12_32ca02c" x="1481.1" y="528.0"/>
<use href="#u12_32ca02c" x="1481.3" y="525.5"/>
<use href="#u12_32ca02c" x="1481.3" y="522.9"/>
<use href="#u12_32ca02c" x="1481.3" y="520.4"/>
<use href="#u12_32ca02c" x="1481.1" y="517.9"/>
<use href="#u12_32ca02c" x="1481.3" y="515.4"/>
<use href="#u12_32ca02c" x="1481.3" y="512.9"/>
<use href="#u12_32ca02c" x="1481.2" y="510.4"/>
<use href="#u12_32ca02c" x="1481.3" y="507.9"/>
<use href="#u12_32ca02c" x="1481.2" y="505.4"/>
<use href="#u12_32ca02c" x="1481.1" y="502.9"/>
<use href="#u12_32ca02c" x="1481.1" y="500.4"/>
<use href="#u12_32ca02c" x="1481.2" y="497.9"/>
<use href="#u12_32ca02c" x="1481.1" y="495.4"/>
<use href="#u12_32ca02c" x="1481.2" y="492.9"/>
<use href="#u12_32ca02c" x="1481.3" y="490.4"/>
<use href="#u12_32ca02c" x="1481.3" y="487.9"/>
<use href="#u12_32ca02c" x="1481.3" y="485.4"/>
<use href="#u12_32ca02c" x="1481.3" y="482.9"/>
<use href="#u12_32ca02c" x="1481.2" y="480.4"/>
<use href="#u12_32ca02c" x="1481.3" y="477.9"/>
<use href="#u12_32ca02c" x="1481.2" y="475.4"/>
<use href="#u12_32ca02c" x="1481.3" y="472.9"/>
<use href="#u12_32ca02c" x="1481.3" y="470.4"/>
<use href="#u12_32ca02c" x="1481.2" y="467.9"/>
<use href="#u12_32ca02c" x="1481.3" y="465.4"/>
<use href="#u12_32ca02c" x="1481.4" y="462.9"/>
<use href="#u12_32ca02c" x="1481.2" y="460.4"/>
<use href="#u12_32ca02c" x="1481.4" y="457.9"/>
<use href="#u12_32ca02c" x="1481.1" y="455.4"/>
<use href="#u12_32ca02c" x="1481.2" y="452.9"/>
<use href="#u12_32ca02c" x="1481.2" y="450.4"/>
<use href="#u12_32ca02c" x="1481.3" y="447.8"/>
<use href="#u12_32ca02c" x="1481.4" y="445.3"/>
<use href="#u12_32ca02c" x="1481.3" y="442.8"/>
<use href="#u12_32ca02c" x="1481.2" y="440.3"/>
<use href="#u12_32ca02c" x="1481.4" y="437.8"/>
<use href="#u12_32ca02c" x="1481.2" y="435.3"/>
<use href="#u12_32ca02c" x="1481.2" y="432.8"/>
<use href="#u12_32ca02c" x="1481.4" y="430.3"/>
<use href="#u12_32ca02c" x="1481.3" y="427.8"/>
<use href="#u12_32ca02c" x="1481.3" y="425.3"/>
<use href="#u12_32ca02c" x="1481.3" y="422.8"/>
<use href="#u12_32ca02c" x="1481.4" y="420.3"/>
<use href="#u12_32ca02c" x="1481.3" y="417.8"/>
<use href="#u12_32ca02c" x="1481.4" y="415.3"/>
<use href="#u12_32ca02c" x="1481.3" y="412.8"/>
<use href="#u12_32ca02c" x="1481.4" y="410.3"/>
<use href="#u12_32ca02c" x="1481.3" y="407.8"/>
<use href="#u12_32ca02c" x="1481.3" y="405.3"/>
<use href="#u12_32ca02c" x="1481.3" y="402.8"/>
<use href="#u12_32ca02c" x="1481.2" y="400.3"/>
<use href="#u12_32ca02c" x="1481.2" y="397.8"/>
<use href="#u12_32ca02c" x="1481.3" y="395.3"/>
<use href="#u12_32ca02c" x="1481.2" y="392.8"/>
<use href="#u12_32ca02c" x="1481.4" y="390.3"/>
<use href="#u12_32ca02c" x="1481.2" y="387.8"/>
<use href="#u12_32ca02c" x="1481.2" y="385.3"/>
<use href="#u12_32ca02c" x="1481.2" y="382.8"/>
<use href="#u12_32ca02c" x="1481.4" y="380.3"/>
<use href="#u12_32ca02c" x="1481.3" y="377.8"/>
<use href="#u12_32ca02c" x="1481.2" y="375.3"/>
<use href="#u12_32ca02c" x="1481.2" y="372.8"/>
<use href="#u12_32ca02c" x="1481.2" y="370.2"/>
<use href="#u12_32ca02c" x="1481.4" y="367.7"/>
<use href="#u12_32ca02c" x="1481.3" y="365.2"/>
<use href="#u12_32ca02c" x="1481.4" y="362.7"/>
<use href="#u12_32ca02c" x="1481.4" y="360.2"/>
<use href="#u12_32ca02c" x="1481.2" y="357.7"/>
<use href="#u12_32ca02c" x="1481.3" y="355.2"/>
<use href="#u12_32ca02c" x="1481.3" y="352.7"/>
<use href="#u12_32ca02c" x="1481.4" y="350.2"/>
<use href="#u12_32ca02c" x="1481.4" y="347.7"/>
<use href="#u12_32ca02c" x="1481.4" y="345.2"/>
<use href="#u12_32ca02c" x="1481.2" y="342.7"/>
<use href="#u12_32ca02c" x="1481.4" y="340.2"/>
<use href="#u12_32ca02c" x="1481.4" y="337.7"/>
<use href="#u12_32ca02c" x="1481.5" y="335.2"/>
<use href="#u12_32ca02c" x="1481.2" y="332.7"/>
<use href="#u12_32ca02c" x="1481.2" y="330.2"/>
<use href="#u12_32ca02c" x="1481.2" y="327.7"/>
<use href="#u12_32ca02c" x="1481.2" y="325.2"/>
<use href="#u12_32ca02c" x="1481.4" y="322.7"/>
<use href="#u12_32ca02c" x="1481.4" y="320.2"/>
<use href="#u12_32ca02c" x="1481.4" y="317.7"/>
<use href="#u12_32ca02c" x="1481.4" y="315.2"/>
<use href="#u12_32ca02c" x="1481.4" y="312.7"/>
<use href="#u12_32ca02c" x="1481.3" y="310.2"/>
<use href="#u12_32ca02c" x="1481.2" y="307.7"/>
<use href="#u12_32ca02c" x="1481.2" y="305.2"/>
<use href="#u12_32ca02c" x="1481.4" y="302.7"/>
<use href="#u12_32ca02c" x="1481.2" y="300.2"/>
<use href="#u12_32ca02c" x="1481.3" y="297.7"/>
<use href="#u12_32ca02c" x="1481.3" y="295.2"/>
<use href="#u12_32ca02c" x="1481.2" y="292.6"/>
<use href="#u12_32ca02c" x="1481.3" y="290.1"/>
<use href="#u12_32ca02c" x="1481.3" y="287.6"/>
<use href="#u12_32ca02c" x="1481.4" y="285.1"/>
<use href="#u12_32ca02c" x="1481.3" y="282.6"/>
<use href="#u12_32ca02c" x="1481.3" y="280.1"/>
<use href="#u12_32ca02c" x="1481.5" y="277.6"/>
<use href="#u12_32ca02c" x="1481.4" y="275.1"/>
<use href="#u12_32ca02c" x="1481.5" y="272.6"/>
<use href="#u12_32ca02c" x="1481.4" y="270.1"/>
<use href="#u12_32ca02c" x="1481.2" y="267.6"/>
<use href="#u12_32ca02c" x="1481.3" y="265.1"/>
<use href="#u12_32ca02c" x="1481.3" y="262.6"/>
<use href="#u12_32ca02c" x="1481.4" y="260.1"/>
<use href="#u12_32ca02c" x="1481.3" y="257.6"/>
<use href="#u12_32ca02c" x="1481.4" y="255.1"/>
<use href="#u12_32ca02c" x="1481.4" y="252.6"/>
<use href="#u12_32ca02c" x="1481.3" y="250.1"/>
<use href="#u12_32ca02c" x="1481.5" y="247.6"/>
<use href="#u12_32ca02c" x="1481.2" y="245.1"/>
<use href="#u12_32ca02c" x="1481.5" y="242.6"/>
<use href="#u12_32ca02c" x="1481.3" y="240.1"/>
<use href="#u12_32ca02c" x="1481.2" y="237.6"/>
<use href="#u12_32ca02c" x="1481.3" y="235.1"/>
<use href="#u12_32ca02c" x="1481.5" y="232.6"/>
<use href="#u12_32ca02c" x="1481.5" y="230.1"/>
<use href="#u12_32ca02c" x="1481.2" y="227.6"/>
<use href="#u12_32ca02c" x="1481.4" y="225.1"/>
<use href="#u12_32ca02c" x="1481.4" y="222.6"/>
<use href="#u12_32ca02c" x="1481.5" y="220.1"/>
<use href="#u12_32ca02c" x="1481.3" y="217.5"/>
<use href="#u12_32ca02c" x="1481.4" y="215.0"/>
<use href="#u12_32ca02c" x="1481.3" y="212.5"/>
<use href="#u12_32ca02c" x="1481.5" y="210.0"/>
<use href="#u12_32ca02c" x="1481.3" y="207.5"/>
<use href="#u12_32ca02c" x="1481.5" y="205.0"/>
<use href="#u12_32ca02c" x="1481.3" y="202.5"/>
<use href="#u12_32ca02c" x="1481.3" y="200.0"/>
<use href="#u12_32ca02c" x="1481.5" y="197.5"/>
<use href="#u12_32ca02c" x="1481.4" y="195.0"/>
<use href="#u12_32ca02c" x="1481.3" y="192.5"/>
<use href="#u12_32ca02c" x="1481.4" y="190.0"/>
<use href="#u12_32ca02c" x="1481.3" y="187.5"/>
<use href="#u12_32ca02c" x="1481.5" y="185.0"/>
<use href="#u12_32ca02c" x="1481.5" y="182.5"/>
<use href="#u12_32ca02c" x="1481.5" y="180.0"/>
<use href="#u12_32ca02c" x="1481.5" y="177.5"/>
<use href="#u12_32ca02c" x="1481.4" y="175.0"/>
<use href="#u12_32ca02c" x="1481.5" y="172.5"/>
<use href="#u12_32ca02c" x="1481.6" y="170.0"/>
<use href="#u12_32ca02c" x="1481.7" y="167.5"/>
<use href="#u12_32ca02c" x="1481.6" y="165.0"/>
<use href="#u12_32ca02c" x="1481.8" y="162.5"/>
<use href="#u12_32ca02c" x="1481.6" y="160.0"/>
<use href="#u12_32ca02c" x="1481.7" y="157.5"/>
<use href="#u12_32ca02c" x="1481.8" y="155.0"/>
<use href="#u12_32ca02c" x="1482.0" y="152.5"/>
<use href="#u12_32ca02c" x="1482.0" y="150.0"/>
<use href="#u12_32ca02c" x="1482.0" y="147.5"/>
<use href="#u12_32ca02c" x="1482.2" y="145.0"/>
<use href="#u12_32ca02c" x="1482.0" y="142.5"/>
<use href="#u12_32ca02c" x="1482.1" y="140.0"/>
<use href="#u12_32ca02c" x="1482.2" y="137.5"/>
<use href="#u12_32ca02c" x="1482.3" y="135.0"/>
<use href="#u12_32ca02c" x="1482.3" y="132.5"/>
<use href="#u12_32ca02c" x="1482.4" y="130.0"/>
<use href="#u12_32ca02c" x="1482.3" y="127.5"/>
<use href="#u12_32ca02c" x="1482.4" y="125.0"/>
<use href="#u12_32ca02c" x="1482.4" y="122.5"/>
<use href="#u12_32ca02c" x="1482.6" y="120.0"/>
<use href="#u12_32ca02c" x="1482.7" y="117.5"/>
<use href="#u12_32ca02c" x="1482.9" y="115.0"/>
<use href="#u12_32ca02c" x="1482.9" y="112.5"/>
<use href="#u12_32ca02c" x="1483.1" y="110.0"/>
<use href="#u12_32ca02c" x="1483.4" y="107.5"/>
<use href="#u12_32ca02c" x="1483.5" y="105.0"/>
<use href="#u12_32ca02c" x="1483.5" y="102.5"/>
<use href="#u12_32ca02c" x="1483.8" y="100.0"/>
<use href="#u12_32ca02c" x="1484.4" y="97.5"/>
<use href="#u12_32ca02c" x="1484.6" y="95.0"/>
<use href="#u12_32ca02c" x="1485.1" y="92.5"/>
<use href="#u12_32ca02c" x="1485.5" y="90.0"/>
<use href="#u12_32ca02c" x="1486.1" y="87.5"/>
<use href="#u12_32ca02c" x="1486.6" y="85.0"/>
<use href="#u12_32ca02c" x="1487.5" y="82.5"/>
<use href="#u12_32ca02c" x="1488.6" y="80.0"/>
<use href="#u12_32ca02c" x="1489.8" y="77.5"/>
<use href="#u12_32ca02c" x="1490.9" y="75.0"/>
<use href="#u12_32ca02c" x="1493.5" y="72.8"/>
<use href="#u12_32ca02c" x="1495.9" y="70.5"/>
<use href="#u12_32ca02c" x="1499.4" y="69.8"/>
<use href="#u12_32ca02c" x="1502.9" y="69.0"/>
<use href="#u12_32ca02c" x="1506.1" y="68.8"/>
<use href="#u12_32ca02c" x="1509.1" y="68.7"/>
<use href="#u12_32ca02c" x="1511.9" y="68.5"/>
<use href="#u12_32ca02c" x="1661.4" y="67.0"/>
<polyline fill="none" stroke="#d62728" stroke-width="3.3" stroke-linejoin="round" points="1480.0,563.0 1479.7,560.5 1479.8,558.0 1480.1,555.5 1480.0,553.0 1480.0,550.5 1480.0,548.0 1479.9,545.5 1480.1,543.0 1479.9,540.5 1480.0,537.9 1480.1,535.4 1480.0,532.9 1480.2,530.4 1480.4,527.9 1480.3,525.4 1480.3,522.9 1480.4,520.4 1480.3,517.9 1480.2,515.4 1480.5,512.9 1480.4,510.4 1480.6,507.9 1480.7,505.4 1480.5,502.9 1480.6,500.4 1480.7,497.9 1480.6,495.4 1480.6,492.8 1480.8,490.3 1480.9,487.8 1480.9,485.3 1480.9,482.8 1481.0,480.3 1480.9,477.8 1480.9,475.3 1480.9,472.8 1480.9,470.3 1481.0,467.8 1480.9,465.3 1481.0,462.8 1481.2,460.3 1481.2,457.8 1481.2,455.3 1481.1,452.8 1481.2,450.3 1481.2,447.8 1481.3,445.2 1481.3,442.7 1481.4,440.2 1481.5,437.7 1481.3,435.2 1481.5,432.7 1481.6,430.2 1481.4,427.7 1481.5,425.2 1481.7,422.7 1481.4,420.2 1481.6,417.7 1481.5,415.2 1481.8,412.7 1481.9,410.2 1481.7,407.7 1481.6,405.2 1481.8,402.7 1481.8,400.2 1481.9,397.6 1481.9,395.1 1482.0,392.6 1482.1,390.1 1482.0,387.6 1482.0,385.1 1482.2,382.6 1482.0,380.1 1482.2,377.6 1482.1,375.1 1482.3,372.6 1482.1,370.1 1482.4,367.6 1482.2,365.1 1482.1,362.6 1482.2,360.1 1482.3,357.6 1482.2,355.1 1482.4,352.5 1482.4,350.0 1482.6,347.5 1482.5,345.0 1482.5,342.5 1482.5,340.0 1482.7,337.5 1482.8,335.0 1482.7,332.5 1482.6,330.0 1482.9,327.5 1482.8,325.0 1482.7,322.5 1482.8,320.0 1483.1,317.5 1483.2,315.0 1483.1,312.5 1483.1,310.0 1483.2,307.5 1483.1,305.0 1483.5,302.5 1483.3,300.0 1483.5,297.5 1483.6,295.0 1483.6,292.5 1483.6,290.0 1483.5,287.5 1483.7,285.0 1483.6,282.5 1483.9,280.0 1483.8,277.5 1484.0,275.0 1483.9,272.5 1484.0,270.0 1484.0,267.5 1484.1,265.0 1484.1,262.5 1484.0,260.0 1484.4,257.5 1484.3,255.0 1484.3,252.5 1484.4,250.0 1484.5,247.5 1484.5,245.0 1484.7,242.5 1484.7,240.0 1484.7,237.5 1484.9,235.0 1485.0,232.5 1484.7,230.0 1485.1,227.5 1485.2,225.0 1485.2,222.5 1485.0,220.0 1485.3,217.5 1485.3,215.0 1485.1,212.5 1485.1,210.0 1485.6,207.5 1485.5,205.0 1485.4,202.5 1485.4,200.0 1485.5,197.5 1485.5,195.0 1485.8,192.5 1485.7,190.0 1485.7,187.5 1486.0,185.0 1486.0,182.5 1485.8,180.0 1486.2,177.5 1486.1,175.0 1486.3,172.5 1486.3,170.0 1486.6,167.5 1486.7,165.0 1486.9,162.5 1486.9,160.0 1487.3,157.5 1487.4,155.0 1487.7,152.5 1487.8,150.0 1488.2,147.5 1488.2,145.0 1488.3,142.5 1488.5,140.0 1488.7,137.5 1489.0,135.0 1489.2,132.2 1489.8,129.4 1490.1,126.6 1490.6,123.8 1491.0,121.0 1491.3,118.5 1491.8,116.0 1491.7,113.5 1492.4,111.0 1492.5,108.5 1492.9,106.0 1493.3,103.5 1493.6,101.0 1494.2,98.0 1495.0,95.0 1495.9,92.0 1496.3,89.0 1498.5,87.0 1500.4,85.0 1502.0,83.0 1504.1,81.0 1506.1,79.0 1508.8,77.6 1511.1,76.2 1514.0,74.8 1516.4,73.4 1519.0,72.0 1521.5,70.2 1523.5,68.3 1526.1,66.5 1562.0,66.3 1702.9,65.7"/>
<use href="#m12_3d62728" x="1480.0" y="563.0"/>
<use href="#m12_3d62728" x="1479.7" y="560.5"/>
<use href="#m12_3d62728" x="1479.8" y="558.0"/>
<use href="#m12_3d62728" x="1480.1" y="555.5"/>
<use href="#m12_3d62728" x="1480.0" y="553.0"/>
<use href="#m12_3d62728" x="1480.0" y="550.5"/>
<use href="#m12_3d62728" x="1480.0" y="548.0"/>
<use href="#m12_3d62728" x="1479.9" y="545.5"/>
<use href="#m12_3d62728" x="1480.1" y="543.0"/>
<use href="#m12_3d62728" x="1479.9" y="540.5"/>
<use href="#m12_3d62728" x="1480.0" y="537.9"/>
<use href="#m12_3d62728" x="1480.1" y="535.4"/>
<use href="#m12_3d62728" x="1480.0" y="532.9"/>
<use href="#m12_3d62728" x="1480.2" y="530.4"/>
<use href="#m12_3d62728" x="1480.4" y="527.9"/>
<use href="#m12_3d62728" x="1480.3" y="525.4"/>
<use href="#m12_3d62728" x="1480.3" y="522.9"/>
<use href="#m12_3d62728" x="1480.4" y="520.4"/>
<use href="#m12_3d62728" x="1480.3" y="517.9"/>
<use href="#m12_3d62728" x="1480.2" y="515.4"/>
<use href="#m12_3d62728" x="1480.5" y="512.9"/>
<use href="#m12_3d62728" x="1480.4" y="510.4"/>
<use href="#m12_3d62728" x="1480.6" y="507.9"/>
<use href="#m12_3d62728" x="1480.7" y="505.4"/>
<use href="#m12_3d62728" x="1480.5" y="502.9"/>
<use href="#m12_3d62728" x="1480.6" y="500.4"/>
<use href="#m12_3d62728" x="1480.7" y="497.9"/>
<use href="#m12_3d62728" x="1480.6" y="495.4"/>
<use href="#m12_3d62728" x="1480.6" y="492.8"/>
<use href="#m12_3d62728" x="1480.8" y="490.3"/>
<use href="#m12_3d62728" x="1480.9" y="487.8"/>
<use href="#m12_3d62728" x="1480.9" y="485.3"/>
<use href="#m12_3d62728" x="1480.9" y="482.8"/>
<use href="#m12_3d62728" x="1481.0" y="480.3"/>
<use href="#m12_3d62728" x="1480.9" y="477.8"/>
<use href="#m12_3d62728" x="1480.9" y="475.3"/>
<use href="#m12_3d62728" x="1480.9" y="472.8"/>
<use href="#m12_3d62728" x="1480.9" y="470.3"/>
<use href="#m12_3d62728" x="1481.0" y="467.8"/>
<use href="#m12_3d62728" x="1480.9" y="465.3"/>
<use href="#m12_3d62728" x="1481.0" y="462.8"/>
<use href="#m12_3d62728" x="1481.2" y="460.3"/>
<use href="#m12_3d62728" x="1481.2" y="457.8"/>
<use href="#m12_3d62728" x="1481.2" y="455.3"/>
<use href="#m12_3d62728" x="1481.1" y="452.8"/>
<use href="#m12_3d62728" x="1481.2" y="450.3"/>
<use href="#m12_3d62728" x="1481.2" y="447.8"/>
<use href="#m12_3d62728" x="1481.3" y="445.2"/>
<use href="#m12_3d62728" x="1481.3" y="442.7"/>
<use href="#m12_3d62728" x="1481.4" y="440.2"/>
<use href="#m12_3d62728" x="1481.5" y="437.7"/>
<use href="#m12_3d62728" x="1481.3" y="435.2"/>
<use href="#m12_3d62728" x="1481.5" y="432.7"/>
<use href="#m12_3d62728" x="1481.6" y="430.2"/>
<use href="#m12_3d62728" x="1481.4" y="427.7"/>
<use href="#m12_3d62728" x="1481.5" y="425.2"/>
<use href="#m12_3d62728" x="1481.7" y="422.7"/>
<use href="#m12_3d62728" x="1481.4" y="420.2"/>
<use href="#m12_3d62728" x="1481.6" y="417.7"/>
<use href="#m12_3d62728" x="1481.5" y="415.2"/>
<use href="#m12_3d62728" x="1481.8" y="412.7"/>
<use href="#m12_3d62728" x="1481.9" y="410.2"/>
<use href="#m12_3d62728" x="1481.7" y="407.7"/>
<use href="#m12_3d62728" x="1481.6" y="405.2"/>
<use href="#m12_3d62728" x="1481.8" y="402.7"/>
<use href="#m12_3d62728" x="1481.8" y="400.2"/>
<use href="#m12_3d62728" x="1481.9" y="397.6"/>
<use href="#m12_3d62728" x="1481.9" y="395.1"/>
<use href="#m12_3d62728" x="1482.0" y="392.6"/>
<use href="#m12_3d62728" x="1482.1" y="390.1"/>
<use href="#m12_3d62728" x="1482.0" y="387.6"/>
<use href="#m12_3d62728" x="1482.0" y="385.1"/>
<use href="#m12_3d62728" x="1482.2" y="382.6"/>
<use href="#m12_3d62728" x="1482.0" y="380.1"/>
<use href="#m12_3d62728" x="1482.2" y="377.6"/>
<use href="#m12_3d62728" x="1482.1" y="375.1"/>
<use href="#m12_3d62728" x="1482.3" y="372.6"/>
<use href="#m12_3d62728" x="1482.1" y="370.1"/>
<use href="#m12_3d62728" x="1482.4" y="367.6"/>
<use href="#m12_3d62728" x="1482.2" y="365.1"/>
<use href="#m12_3d62728" x="1482.1" y="362.6"/>
<use href="#m12_3d62728" x="1482.2" y="360.1"/>
<use href="#m12_3d62728" x="1482.3" y="357.6"/>
<use href="#m12_3d62728" x="1482.2" y="355.1"/>
<use href="#m12_3d62728" x="1482.4" y="352.5"/>
<use href="#m12_3d62728" x="1482.4" y="350.0"/>
<use href="#m12_3d62728" x="1482.6" y="347.5"/>
<use href="#m12_3d62728" x="1482.5" y="345.0"/>
<use href="#m12_3d62728" x="1482.5" y="342.5"/>
<use href="#m12_3d62728" x="1482.5" y="340.0"/>
<use href="#m12_3d62728" x="1482.7" y="337.5"/>
<use href="#m12_3d62728" x="1482.8" y="335.0"/>
<use href="#m12_3d62728" x="1482.7" y="332.5"/>
<use href="#m12_3d62728" x="1482.6" y="330.0"/>
<use href="#m12_3d62728" x="1482.9" y="327.5"/>
<use href="#m12_3d62728" x="1482.8" y="325.0"/>
<use href="#m12_3d62728" x="1482.7" y="322.5"/>
<use href="#m12_3d62728" x="1482.8" y="320.0"/>
<use href="#m12_3d62728" x="1483.1" y="317.5"/>
<use href="#m12_3d62728" x="1483.2" y="315.0"/>
<use href="#m12_3d62728" x="1483.1" y="312.5"/>
<use href="#m12_3d62728" x="1483.1" y="310.0"/>
<use href="#m12_3d62728" x="1483.2" y="307.5"/>
<use href="#m12_3d62728" x="1483.1" y="305.0"/>
<use href="#m12_3d62728" x="1483.5" y="302.5"/>
<use href="#m12_3d62728" x="1483.3" y="300.0"/>
<use href="#m12_3d62728" x="1483.5" y="297.5"/>
<use href="#m12_3d62728" x="1483.6" y="295.0"/>
<use href="#m12_3d62728" x="1483.6" y="292.5"/>
<use href="#m12_3d62728" x="1483.6" y="290.0"/>
<use href="#m12_3d62728" x="1483.5" y="287.5"/>
<use href="#m12_3d62728" x="1483.7" y="285.0"/>
<use href="#m12_3d62728" x="1483.6" y="282.5"/>
<use href="#m12_3d62728" x="1483.9" y="280.0"/>
<use href="#m12_3d62728" x="1483.8" y="277.5"/>
<use href="#m12_3d62728" x="1484.0" y="275.0"/>
<use href="#m12_3d62728" x="1483.9" y="272.5"/>
<use href="#m12_3d62728" x="1484.0" y="270.0"/>
<use href="#m12_3d62728" x="1484.0" y="267.5"/>
<use href="#m12_3d62728" x="1484.1" y="265.0"/>
<use href="#m12_3d62728" x="1484.1" y="262.5"/>
<use href="#m12_3d62728" x="1484.0" y="260.0"/>
<use href="#m12_3d62728" x="1484.4" y="257.5"/>
<use href="#m12_3d62728" x="1484.3" y="255.0"/>
<use href="#m12_3d62728" x="1484.3" y="252.5"/>
<use href="#m12_3d62728" x="1484.4" y="250.0"/>
<use href="#m12_3d62728" x="1484.5" y="247.5"/>
<use href="#m12_3d62728" x="1484.5" y="245.0"/>
<use href="#m12_3d62728" x="1484.7" y="242.5"/>
<use href="#m12_3d62728" x="1484.7" y="240.0"/>
<use href="#m12_3d62728" x="1484.7" y="237.5"/>
<use href="#m12_3d62728" x="1484.9" y="235.0"/>
<use href="#m12_3d62728" x="1485.0" y="232.5"/>
<use href="#m12_3d62728" x="1484.7" y="230.0"/>
<use href="#m12_3d62728" x="1485.1" y="227.5"/>
<use href="#m12_3d62728" x="1485.2" y="225.0"/>
<use href="#m12_3d62728" x="1485.2" y="222.5"/>
<use href="#m12_3d62728" x="1485.0" y="220.0"/>
<use href="#m12_3d62728" x="1485.3" y="217.5"/>
<use href="#m12_3d62728" x="1485.3" y="215.0"/>
<use href="#m12_3d62728" x="1485.1" y="212.5"/>
<use href="#m12_3d62728" x="1485.1" y="210.0"/>
<use href="#m12_3d62728" x="1485.6" y="207.5"/>
<use href="#m12_3d62728" x="1485.5" y="205.0"/>
<use href="#m12_3d62728" x="1485.4" y="202.5"/>
<use href="#m12_3d62728" x="1485.4" y="200.0"/>
<use href="#m12_3d62728" x="1485.5" y="197.5"/>
<use href="#m12_3d62728" x="1485.5" y="195.0"/>
<use href="#m12_3d62728" x="1485.8" y="192.5"/>
<use href="#m12_3d62728" x="1485.7" y="190.0"/>
<use href="#m12_3d62728" x="1485.7" y="187.5"/>
<use href="#m12_3d62728" x="1486.0" y="185.0"/>
<use href="#m12_3d62728" x="1486.0" y="182.5"/>
<use href="#m12_3d62728" x="1485.8" y="180.0"/>
<use href="#m12_3d62728" x="1486.2" y="177.5"/>
<use href="#m12_3d62728" x="1486.1" y="175.0"/>
<use href="#m12_3d62728" x="1486.3" y="172.5"/>
<use href="#m12_3d62728" x="1486.3" y="170.0"/>
<use href="#m12_3d62728" x="1486.6" y="167.5"/>
<use href="#m12_3d62728" x="1486.7" y="165.0"/>
<use href="#m12_3d62728" x="1486.9" y="162.5"/>
<use href="#m12_3d62728" x="1486.9" y="160.0"/>
<use href="#m12_3d62728" x="1487.3" y="157.5"/>
<use href="#m12_3d62728" x="1487.4" y="155.0"/>
<use href="#m12_3d62728" x="1487.7" y="152.5"/>
<use href="#m12_3d62728" x="1487.8" y="150.0"/>
<use href="#m12_3d62728" x="1488.2" y="147.5"/>
<use href="#m12_3d62728" x="1488.2" y="145.0"/>
<use href="#m12_3d62728" x="1488.3" y="142.5"/>
<use href="#m12_3d62728" x="1488.5" y="140.0"/>
<use href="#m12_3d62728" x="1488.7" y="137.5"/>
<use href="#m12_3d62728" x="1489.0" y="135.0"/>
<use href="#m12_3d62728" x="1489.2" y="132.2"/>
<use href="#m12_3d62728" x="1489.8" y="129.4"/>
<use href="#m12_3d62728" x="1490.1" y="126.6"/>
<use href="#m12_3d62728" x="1490.6" y="123.8"/>
<use href="#m12_3d62728" x="1491.0" y="121.0"/>
<use href="#m12_3d62728" x="1491.3" y="118.5"/>
<use href="#m12_3d62728" x="1491.8" y="116.0"/>
<use href="#m12_3d62728" x="1491.7" y="113.5"/>
<use href="#m12_3d62728" x="1492.4" y="111.0"/>
<use href="#m12_3d62728" x="1492.5" y="108.5"/>
<use href="#m12_3d62728" x="1492.9" y="106.0"/>
<use href="#m12_3d62728" x="1493.3" y="103.5"/>
<use href="#m12_3d62728" x="1493.6" y="101.0"/>
<use href="#m12_3d62728" x="1494.2" y="98.0"/>
<use href="#m12_3d62728" x="1495.0" y="95.0"/>
<use href="#m12_3d62728" x="1495.9" y="92.0"/>
<use href="#m12_3d62728" x="1496.3" y="89.0"/>
<use href="#m12_3d62728" x="1498.5" y="87.0"/>
<use href="#m12_3d62728" x="1500.4" y="85.0"/>
<use href="#m12_3d62728" x="1502.0" y="83.0"/>
<use href="#m12_3d62728" x="1504.1" y="81.0"/>
<use href="#m12_3d62728" x="1506.1" y="79.0"/>
<use href="#m12_3d62728" x="1508.8" y="77.6"/>
<use href="#m12_3d62728" x="1511.1" y="76.2"/>
<use href="#m12_3d62728" x="1514.0" y="74.8"/>
<use href="#m12_3d62728" x="1516.4" y="73.4"/>
<use href="#m12_3d62728" x="1519.0" y="72.0"/>
<use href="#m12_3d62728" x="1521.5" y="70.2"/>
<use href="#m12_3d62728" x="1523.5" y="68.3"/>
<use href="#m12_3d62728" x="1526.1" y="66.5"/>
<use href="#m12_3d62728" x="1562.0" y="66.3"/>
<use href="#m12_3d62728" x="1702.9" y="65.7"/>
<polyline fill="none" stroke="#9467bd" stroke-width="3.3" stroke-linejoin="round" points="1480.0,563.0 1480.1,561.3 1480.2,559.6 1480.2,557.9 1480.3,556.2 1480.4,554.5 1480.5,552.8 1480.5,551.1 1480.6,549.4 1480.7,547.7 1480.8,546.0 1480.9,544.3 1480.9,542.6 1481.1,540.9 1481.1,539.2 1481.2,537.5 1481.2,535.8 1481.3,534.1 1481.5,532.4 1481.5,530.7 1481.6,529.0 1481.6,527.3 1481.7,525.6 1481.8,523.9 1482.0,522.2 1482.1,520.5 1482.2,518.8 1482.2,517.1 1482.4,515.4 1482.5,513.7 1482.6,512.0 1482.6,510.3 1482.7,508.6 1482.8,506.9 1482.9,505.2 1483.2,503.5 1483.2,501.8 1483.3,500.1 1483.5,498.4 1483.6,496.7 1483.7,495.0 1483.8,493.3 1483.9,491.6 1484.0,489.9 1484.1,488.2 1484.2,486.5 1484.2,484.8 1484.4,483.1 1484.5,481.4 1484.6,479.7 1484.7,478.0 1484.8,476.3 1484.9,474.6 1485.2,472.9 1485.3,471.2 1485.4,469.5 1485.4,467.8 1485.7,466.1 1485.8,464.4 1485.9,462.7 1485.9,461.0 1486.0,459.3 1486.2,457.6 1486.3,455.9 1486.4,454.2 1486.6,452.5 1486.7,450.8 1486.8,449.1 1487.0,447.4 1487.0,445.7 1487.1,444.0 1487.4,442.3 1487.5,440.6 1487.7,438.9 1487.7,437.2 1487.7,435.5 1487.9,433.8 1488.1,432.1 1488.3,430.4 1488.4,428.7 1488.4,427.0 1488.5,425.3 1488.6,423.6 1488.8,421.9 1488.9,420.2 1489.0,418.5 1489.1,416.8 1489.2,415.1 1489.5,413.4 1489.5,411.7 1489.7,410.0 1489.8,408.3 1490.0,406.6 1490.0,404.9 1490.0,403.2 1490.2,401.5 1490.2,399.8 1490.4,398.1 1490.4,396.4 1490.4,394.7 1490.6,393.0 1490.7,391.3 1490.8,389.6 1490.8,387.9 1490.9,386.2 1491.0,384.5 1491.1,382.8 1491.1,381.1 1491.3,379.4 1491.3,377.7 1491.4,376.0 1491.5,374.3 1491.5,372.6 1491.5,370.9 1491.7,369.2 1491.8,367.5 1491.8,365.8 1491.9,364.1 1492.0,362.4 1492.0,360.7 1492.2,359.0 1492.2,357.3 1492.2,355.6 1492.4,353.9 1492.5,352.2 1492.5,350.5 1492.7,348.8 1492.7,347.1 1492.8,345.4 1492.8,343.7 1493.0,342.0 1493.0,340.3 1493.1,338.6 1493.2,336.9 1493.3,335.2 1493.4,333.5 1493.5,331.8 1493.5,330.1 1493.6,328.4 1493.7,326.7 1494.4,325.0 1494.5,323.3 1494.8,321.6 1494.8,319.9 1495.1,318.2 1495.5,316.5 1495.7,314.8 1495.8,313.1 1495.9,311.4 1496.2,309.7 1496.6,308.0 1496.6,306.3 1497.0,304.6 1497.2,302.9 1497.5,301.2 1497.7,299.5 1497.7,297.8 1497.8,296.1 1498.2,294.4 1498.5,292.7 1498.8,291.0 1499.2,289.3 1499.3,287.6 1499.5,285.9 1499.9,284.2 1500.1,282.5 1500.4,280.8 1500.5,279.1 1500.6,277.4 1501.1,275.7 1501.3,274.0 1501.5,272.3 1501.8,270.6 1501.8,268.9 1501.9,267.2 1502.4,265.5 1502.7,263.8 1502.7,262.1 1503.2,260.4 1503.4,258.7 1503.5,257.0 1503.8,255.3 1504.1,253.6 1504.3,251.9 1504.4,250.2 1504.6,248.5 1505.1,246.8 1505.3,245.1 1505.4,243.4 1505.4,241.7 1505.9,240.0 1506.0,238.3 1506.0,236.6 1506.4,234.9 1506.7,233.2 1506.9,231.5 1506.9,229.8 1507.1,228.1 1507.3,226.4 1507.4,224.7 1507.5,223.0 1507.7,221.3 1508.1,219.6 1508.2,217.9 1508.5,216.2 1508.6,214.5 1508.8,212.8 1508.9,211.1 1509.0,209.4 1509.5,207.7 1509.6,206.0 1509.6,204.3 1510.4,202.6 1510.8,200.9 1510.9,199.2 1511.6,197.5 1511.8,195.8 1512.4,194.1 1512.4,192.4 1512.9,190.7 1514.1,189.0 1514.4,187.3 1514.5,185.6 1515.0,183.9 1515.2,182.2 1516.0,180.5 1516.1,178.8 1517.7,177.1 1518.3,175.4 1519.2,173.7 1519.9,172.0 1520.3,170.3 1520.4,168.6 1521.5,166.9 1522.3,165.2 1523.0,163.5 1523.8,161.8 1525.5,160.1 1526.8,158.4 1527.0,156.7 1528.6,155.0 1528.8,153.3 1529.4,151.6 1530.6,149.9 1531.1,148.2 1531.4,146.5 1533.3,144.8 1533.7,143.1 1534.7,141.4 1535.7,139.7 1537.0,138.0 1537.5,136.3 1537.9,134.6 1538.9,132.9 1539.2,131.2 1541.6,129.5 1542.1,127.8 1542.6,126.1 1542.6,124.4 1543.9,122.7 1545.0,121.0 1546.9,119.3 1547.8,117.6 1548.1,115.9 1548.6,114.2 1550.3,112.5 1551.1,110.8 1551.9,109.1 1552.6,107.4 1553.3,105.7 1553.4,104.0 1554.9,102.3 1555.8,100.6 1556.1,98.9 1556.2,97.2 1557.3,95.5 1557.9,93.8 1558.1,92.1 1558.9,90.4 1559.4,88.7 1559.9,87.0 1561.0,85.3 1561.3,83.6 1561.9,81.9 1562.4,80.2 1564.6,78.5 1565.1,76.8 1567.8,75.1 1567.9,73.4 1569.0,71.7 1571.4,70.5 1581.5,65.9 1608.0,64.8 1619.5,63.2"/>
<use href="#d12_39467bd" x="1480.0" y="563.0"/>
<use href="#d12_39467bd" x="1480.1" y="561.3"/>
<use href="#d12_39467bd" x="1480.2" y="559.6"/>
<use href="#d12_39467bd" x="1480.2" y="557.9"/>
<use href="#d12_39467bd" x="1480.3" y="556.2"/>
<use href="#d12_39467bd" x="1480.4" y="554.5"/>
<use href="#d12_39467bd" x="1480.5" y="552.8"/>
<use href="#d12_39467bd" x="1480.5" y="551.1"/>
<use href="#d12_39467bd" x="1480.6" y="549.4"/>
<use href="#d12_39467bd" x="1480.7" y="547.7"/>
<use href="#d12_39467bd" x="1480.8" y="546.0"/>
<use href="#d12_39467bd" x="1480.9" y="544.3"/>
<use href="#d12_39467bd" x="1480.9" y="542.6"/>
<use href="#d12_39467bd" x="1481.1" y="540.9"/>
<use href="#d12_39467bd" x="1481.1" y="539.2"/>
<use href="#d12_39467bd" x="1481.2" y="537.5"/>
<use href="#d12_39467bd" x="1481.2" y="535.8"/>
<use href="#d12_39467bd" x="1481.3" y="534.1"/>
<use href="#d12_39467bd" x="1481.5" y="532.4"/>
<use href="#d12_39467bd" x="1481.5" y="530.7"/>
<use href="#d12_39467bd" x="1481.6" y="529.0"/>
<use href="#d12_39467bd" x="1481.6" y="527.3"/>
<use href="#d12_39467bd" x="1481.7" y="525.6"/>
<use href="#d12_39467bd" x="1481.8" y="523.9"/>
<use href="#d12_39467bd" x="1482.0" y="522.2"/>
<use href="#d12_39467bd" x="1482.1" y="520.5"/>
<use href="#d12_39467bd" x="1482.2" y="518.8"/>
<use href="#d12_39467bd" x="1482.2" y="517.1"/>
<use href="#d12_39467bd" x="1482.4" y="515.4"/>
<use href="#d12_39467bd" x="1482.5" y="513.7"/>
<use href="#d12_39467bd" x="1482.6" y="512.0"/>
<use href="#d12_39467bd" x="1482.6" y="510.3"/>
<use href="#d12_39467bd" x="1482.7" y="508.6"/>
<use href="#d12_39467bd" x="1482.8" y="506.9"/>
<use href="#d12_39467bd" x="1482.9" y="505.2"/>
<use href="#d12_39467bd" x="1483.2" y="503.5"/>
<use href="#d12_39467bd" x="1483.2" y="501.8"/>
<use href="#d12_39467bd" x="1483.3" y="500.1"/>
<use href="#d12_39467bd" x="1483.5" y="498.4"/>
<use href="#d12_39467bd" x="1483.6" y="496.7"/>
<use href="#d12_39467bd" x="1483.7" y="495.0"/>
<use href="#d12_39467bd" x="1483.8" y="493.3"/>
<use href="#d12_39467bd" x="1483.9" y="491.6"/>
<use href="#d12_39467bd" x="1484.0" y="489.9"/>
<use href="#d12_39467bd" x="1484.1" y="488.2"/>
<use href="#d12_39467bd" x="1484.2" y="486.5"/>
<use href="#d12_39467bd" x="1484.2" y="484.8"/>
<use href="#d12_39467bd" x="1484.4" y="483.1"/>
<use href="#d12_39467bd" x="1484.5" y="481.4"/>
<use href="#d12_39467bd" x="1484.6" y="479.7"/>
<use href="#d12_39467bd" x="1484.7" y="478.0"/>
<use href="#d12_39467bd" x="1484.8" y="476.3"/>
<use href="#d12_39467bd" x="1484.9" y="474.6"/>
<use href="#d12_39467bd" x="1485.2" y="472.9"/>
<use href="#d12_39467bd" x="1485.3" y="471.2"/>
<use href="#d12_39467bd" x="1485.4" y="469.5"/>
<use href="#d12_39467bd" x="1485.4" y="467.8"/>
<use href="#d12_39467bd" x="1485.7" y="466.1"/>
<use href="#d12_39467bd" x="1485.8" y="464.4"/>
<use href="#d12_39467bd" x="1485.9" y="462.7"/>
<use href="#d12_39467bd" x="1485.9" y="461.0"/>
<use href="#d12_39467bd" x="1486.0" y="459.3"/>
<use href="#d12_39467bd" x="1486.2" y="457.6"/>
<use href="#d12_39467bd" x="1486.3" y="455.9"/>
<use href="#d12_39467bd" x="1486.4" y="454.2"/>
<use href="#d12_39467bd" x="1486.6" y="452.5"/>
<use href="#d12_39467bd" x="1486.7" y="450.8"/>
<use href="#d12_39467bd" x="1486.8" y="449.1"/>
<use href="#d12_39467bd" x="1487.0" y="447.4"/>
<use href="#d12_39467bd" x="1487.0" y="445.7"/>
<use href="#d12_39467bd" x="1487.1" y="444.0"/>
<use href="#d12_39467bd" x="1487.4" y="442.3"/>
<use href="#d12_39467bd" x="1487.5" y="440.6"/>
<use href="#d12_39467bd" x="1487.7" y="438.9"/>
<use href="#d12_39467bd" x="1487.7" y="437.2"/>
<use href="#d12_39467bd" x="1487.7" y="435.5"/>
<use href="#d12_39467bd" x="1487.9" y="433.8"/>
<use href="#d12_39467bd" x="1488.1" y="432.1"/>
<use href="#d12_39467bd" x="1488.3" y="430.4"/>
<use href="#d12_39467bd" x="1488.4" y="428.7"/>
<use href="#d12_39467bd" x="1488.4" y="427.0"/>
<use href="#d12_39467bd" x="1488.5" y="425.3"/>
<use href="#d12_39467bd" x="1488.6" y="423.6"/>
<use href="#d12_39467bd" x="1488.8" y="421.9"/>
<use href="#d12_39467bd" x="1488.9" y="420.2"/>
<use href="#d12_39467bd" x="1489.0" y="418.5"/>
<use href="#d12_39467bd" x="1489.1" y="416.8"/>
<use href="#d12_39467bd" x="1489.2" y="415.1"/>
<use href="#d12_39467bd" x="1489.5" y="413.4"/>
<use href="#d12_39467bd" x="1489.5" y="411.7"/>
<use href="#d12_39467bd" x="1489.7" y="410.0"/>
<use href="#d12_39467bd" x="1489.8" y="408.3"/>
<use href="#d12_39467bd" x="1490.0" y="406.6"/>
<use href="#d12_39467bd" x="1490.0" y="404.9"/>
<use href="#d12_39467bd" x="1490.0" y="403.2"/>
<use href="#d12_39467bd" x="1490.2" y="401.5"/>
<use href="#d12_39467bd" x="1490.2" y="399.8"/>
<use href="#d12_39467bd" x="1490.4" y="398.1"/>
<use href="#d12_39467bd" x="1490.4" y="396.4"/>
<use href="#d12_39467bd" x="1490.4" y="394.7"/>
<use href="#d12_39467bd" x="1490.6" y="393.0"/>
<use href="#d12_39467bd" x="1490.7" y="391.3"/>
<use href="#d12_39467bd" x="1490.8" y="389.6"/>
<use href="#d12_39467bd" x="1490.8" y="387.9"/>
<use href="#d12_39467bd" x="1490.9" y="386.2"/>
<use href="#d12_39467bd" x="1491.0" y="384.5"/>
<use href="#d12_39467bd" x="1491.1" y="382.8"/>
<use href="#d12_39467bd" x="1491.1" y="381.1"/>
<use href="#d12_39467bd" x="1491.3" y="379.4"/>
<use href="#d12_39467bd" x="1491.3" y="377.7"/>
<use href="#d12_39467bd" x="1491.4" y="376.0"/>
<use href="#d12_39467bd" x="1491.5" y="374.3"/>
<use href="#d12_39467bd" x="1491.5" y="372.6"/>
<use href="#d12_39467bd" x="1491.5" y="370.9"/>
<use href="#d12_39467bd" x="1491.7" y="369.2"/>
<use href="#d12_39467bd" x="1491.8" y="367.5"/>
<use href="#d12_39467bd" x="1491.8" y="365.8"/>
<use href="#d12_39467bd" x="1491.9" y="364.1"/>
<use href="#d12_39467bd" x="1492.0" y="362.4"/>
<use href="#d12_39467bd" x="1492.0" y="360.7"/>
<use href="#d12_39467bd" x="1492.2" y="359.0"/>
<use href="#d12_39467bd" x="1492.2" y="357.3"/>
<use href="#d12_39467bd" x="1492.2" y="355.6"/>
<use href="#d12_39467bd" x="1492.4" y="353.9"/>
<use href="#d12_39467bd" x="1492.5" y="352.2"/>
<use href="#d12_39467bd" x="1492.5" y="350.5"/>
<use href="#d12_39467bd" x="1492.7" y="348.8"/>
<use href="#d12_39467bd" x="1492.7" y="347.1"/>
<use href="#d12_39467bd" x="1492.8" y="345.4"/>
<use href="#d12_39467bd" x="1492.8" y="343.7"/>
<use href="#d12_39467bd" x="1493.0" y="342.0"/>
<use href="#d12_39467bd" x="1493.0" y="340.3"/>
<use href="#d12_39467bd" x="1493.1" y="338.6"/>
<use href="#d12_39467bd" x="1493.2" y="336.9"/>
<use href="#d12_39467bd" x="1493.3" y="335.2"/>
<use href="#d12_39467bd" x="1493.4" y="333.5"/>
<use href="#d12_39467bd" x="1493.5" y="331.8"/>
<use href="#d12_39467bd" x="1493.5" y="330.1"/>
<use href="#d12_39467bd" x="1493.6" y="328.4"/>
<use href="#d12_39467bd" x="1493.7" y="326.7"/>
<use href="#d12_39467bd" x="1494.4" y="325.0"/>
<use href="#d12_39467bd" x="1494.5" y="323.3"/>
<use href="#d12_39467bd" x="1494.8" y="321.6"/>
<use href="#d12_39467bd" x="1494.8" y="319.9"/>
<use href="#d12_39467bd" x="1495.1" y="318.2"/>
<use href="#d12_39467bd" x="1495.5" y="316.5"/>
<use href="#d12_39467bd" x="1495.7" y="314.8"/>
<use href="#d12_39467bd" x="1495.8" y="313.1"/>
<use href="#d12_39467bd" x="1495.9" y="311.4"/>
<use href="#d12_39467bd" x="1496.2" y="309.7"/>
<use href="#d12_39467bd" x="1496.6" y="308.0"/>
<use href="#d12_39467bd" x="1496.6" y="306.3"/>
<use href="#d12_39467bd" x="1497.0" y="304.6"/>
<use href="#d12_39467bd" x="1497.2" y="302.9"/>
<use href="#d12_39467bd" x="1497.5" y="301.2"/>
<use href="#d12_39467bd" x="1497.7" y="299.5"/>
<use href="#d12_39467bd" x="1497.7" y="297.8"/>
<use href="#d12_39467bd" x="1497.8" y="296.1"/>
<use href="#d12_39467bd" x="1498.2" y="294.4"/>
<use href="#d12_39467bd" x="1498.5" y="292.7"/>
<use href="#d12_39467bd" x="1498.8" y="291.0"/>
<use href="#d12_39467bd" x="1499.2" y="289.3"/>
<use href="#d12_39467bd" x="1499.3" y="287.6"/>
<use href="#d12_39467bd" x="1499.5" y="285.9"/>
<use href="#d12_39467bd" x="1499.9" y="284.2"/>
<use href="#d12_39467bd" x="1500.1" y="282.5"/>
<use href="#d12_39467bd" x="1500.4" y="280.8"/>
<use href="#d12_39467bd" x="1500.5" y="279.1"/>
<use href="#d12_39467bd" x="1500.6" y="277.4"/>
<use href="#d12_39467bd" x="1501.1" y="275.7"/>
<use href="#d12_39467bd" x="1501.3" y="274.0"/>
<use href="#d12_39467bd" x="1501.5" y="272.3"/>
<use href="#d12_39467bd" x="1501.8" y="270.6"/>
<use href="#d12_39467bd" x="1501.8" y="268.9"/>
<use href="#d12_39467bd" x="1501.9" y="267.2"/>
<use href="#d12_39467bd" x="1502.4" y="265.5"/>
<use href="#d12_39467bd" x="1502.7" y="263.8"/>
<use href="#d12_39467bd" x="1502.7" y="262.1"/>
<use href="#d12_39467bd" x="1503.2" y="260.4"/>
<use href="#d12_39467bd" x="1503.4" y="258.7"/>
<use href="#d12_39467bd" x="1503.5" y="257.0"/>
<use href="#d12_39467bd" x="1503.8" y="255.3"/>
<use href="#d12_39467bd" x="1504.1" y="253.6"/>
<use href="#d12_39467bd" x="1504.3" y="251.9"/>
<use href="#d12_39467bd" x="1504.4" y="250.2"/>
<use href="#d12_39467bd" x="1504.6" y="248.5"/>
<use href="#d12_39467bd" x="1505.1" y="246.8"/>
<use href="#d12_39467bd" x="1505.3" y="245.1"/>
<use href="#d12_39467bd" x="1505.4" y="243.4"/>
<use href="#d12_39467bd" x="1505.4" y="241.7"/>
<use href="#d12_39467bd" x="1505.9" y="240.0"/>
<use href="#d12_39467bd" x="1506.0" y="238.3"/>
<use href="#d12_39467bd" x="1506.0" y="236.6"/>
<use href="#d12_39467bd" x="1506.4" y="234.9"/>
<use href="#d12_39467bd" x="1506.7" y="233.2"/>
<use href="#d12_39467bd" x="1506.9" y="231.5"/>
<use href="#d12_39467bd" x="1506.9" y="229.8"/>
<use href="#d12_39467bd" x="1507.1" y="228.1"/>
<use href="#d12_39467bd" x="1507.3" y="226.4"/>
<use href="#d12_39467bd" x="1507.4" y="224.7"/>
<use href="#d12_39467bd" x="1507.5" y="223.0"/>
<use href="#d12_39467bd" x="1507.7" y="221.3"/>
<use href="#d12_39467bd" x="1508.1" y="219.6"/>
<use href="#d12_39467bd" x="1508.2" y="217.9"/>
<use href="#d12_39467bd" x="1508.5" y="216.2"/>
<use href="#d12_39467bd" x="1508.6" y="214.5"/>
<use href="#d12_39467bd" x="1508.8" y="212.8"/>
<use href="#d12_39467bd" x="1508.9" y="211.1"/>
<use href="#d12_39467bd" x="1509.0" y="209.4"/>
<use href="#d12_39467bd" x="1509.5" y="207.7"/>
<use href="#d12_39467bd" x="1509.6" y="206.0"/>
<use href="#d12_39467bd" x="1509.6" y="204.3"/>
<use href="#d12_39467bd" x="1510.4" y="202.6"/>
<use href="#d12_39467bd" x="1510.8" y="200.9"/>
<use href="#d12_39467bd" x="1510.9" y="199.2"/>
<use href="#d12_39467bd" x="1511.6" y="197.5"/>
<use href="#d12_39467bd" x="1511.8" y="195.8"/>
<use href="#d12_39467bd" x="1512.4" y="194.1"/>
<use href="#d12_39467bd" x="1512.4" y="192.4"/>
<use href="#d12_39467bd" x="1512.9" y="190.7"/>
<use href="#d12_39467bd" x="1514.1" y="189.0"/>
<use href="#d12_39467bd" x="1514.4" y="187.3"/>
<use href="#d12_39467bd" x="1514.5" y="185.6"/>
<use href="#d12_39467bd" x="1515.0" y="183.9"/>
<use href="#d12_39467bd" x="1515.2" y="182.2"/>
<use href="#d12_39467bd" x="1516.0" y="180.5"/>
<use href="#d12_39467bd" x="1516.1" y="178.8"/>
<use href="#d12_39467bd" x="1517.7" y="177.1"/>
<use href="#d12_39467bd" x="1518.3" y="175.4"/>
<use href="#d12_39467bd" x="1519.2" y="173.7"/>
<use href="#d12_39467bd" x="1519.9" y="172.0"/>
<use href="#d12_39467bd" x="1520.3" y="170.3"/>
<use href="#d12_39467bd" x="1520.4" y="168.6"/>
<use href="#d12_39467bd" x="1521.5" y="166.9"/>
<use href="#d12_39467bd" x="1522.3" y="165.2"/>
<use href="#d12_39467bd" x="1523.0" y="163.5"/>
<use href="#d12_39467bd" x="1523.8" y="161.8"/>
<use href="#d12_39467bd" x="1525.5" y="160.1"/>
<use href="#d12_39467bd" x="1526.8" y="158.4"/>
<use href="#d12_39467bd" x="1527.0" y="156.7"/>
<use href="#d12_39467bd" x="1528.6" y="155.0"/>
<use href="#d12_39467bd" x="1528.8" y="153.3"/>
<use href="#d12_39467bd" x="1529.4" y="151.6"/>
<use href="#d12_39467bd" x="1530.6" y="149.9"/>
<use href="#d12_39467bd" x="1531.1" y="148.2"/>
<use href="#d12_39467bd" x="1531.4" y="146.5"/>
<use href="#d12_39467bd" x="1533.3" y="144.8"/>
<use href="#d12_39467bd" x="1533.7" y="143.1"/>
<use href="#d12_39467bd" x="1534.7" y="141.4"/>
<use href="#d12_39467bd" x="1535.7" y="139.7"/>
<use href="#d12_39467bd" x="1537.0" y="138.0"/>
<use href="#d12_39467bd" x="1537.5" y="136.3"/>
<use href="#d12_39467bd" x="1537.9" y="134.6"/>
<use href="#d12_39467bd" x="1538.9" y="132.9"/>
<use href="#d12_39467bd" x="1539.2" y="131.2"/>
<use href="#d12_39467bd" x="1541.6" y="129.5"/>
<use href="#d12_39467bd" x="1542.1" y="127.8"/>
<use href="#d12_39467bd" x="1542.6" y="126.1"/>
<use href="#d12_39467bd" x="1542.6" y="124.4"/>
<use href="#d12_39467bd" x="1543.9" y="122.7"/>
<use href="#d12_39467bd" x="1545.0" y="121.0"/>
<use href="#d12_39467bd" x="1546.9" y="119.3"/>
<use href="#d12_39467bd" x="1547.8" y="117.6"/>
<use href="#d12_39467bd" x="1548.1" y="115.9"/>
<use href="#d12_39467bd" x="1548.6" y="114.2"/>
<use href="#d12_39467bd" x="1550.3" y="112.5"/>
<use href="#d12_39467bd" x="1551.1" y="110.8"/>
<use href="#d12_39467bd" x="1551.9" y="109.1"/>
<use href="#d12_39467bd" x="1552.6" y="107.4"/>
<use href="#d12_39467bd" x="1553.3" y="105.7"/>
<use href="#d12_39467bd" x="1553.4" y="104.0"/>
<use href="#d12_39467bd" x="1554.9" y="102.3"/>
<use href="#d12_39467bd" x="1555.8" y="100.6"/>
<use href="#d12_39467bd" x="1556.1" y="98.9"/>
<use href="#d12_39467bd" x="1556.2" y="97.2"/>
<use href="#d12_39467bd" x="1557.3" y="95.5"/>
<use href="#d12_39467bd" x="1557.9" y="93.8"/>
<use href="#d12_39467bd" x="1558.1" y="92.1"/>
<use href="#d12_39467bd" x="1558.9" y="90.4"/>
<use href="#d12_39467bd" x="1559.4" y="88.7"/>
<use href="#d12_39467bd" x="1559.9" y="87.0"/>
<use href="#d12_39467bd" x="1561.0" y="85.3"/>
<use href="#d12_39467bd" x="1561.3" y="83.6"/>
<use href="#d12_39467bd" x="1561.9" y="81.9"/>
<use href="#d12_39467bd" x="1562.4" y="80.2"/>
<use href="#d12_39467bd" x="1564.6" y="78.5"/>
<use href="#d12_39467bd" x="1565.1" y="76.8"/>
<use href="#d12_39467bd" x="1567.8" y="75.1"/>
<use href="#d12_39467bd" x="1567.9" y="73.4"/>
<use href="#d12_39467bd" x="1569.0" y="71.7"/>
<use href="#d12_39467bd" x="1571.4" y="70.5"/>
<use href="#d12_39467bd" x="1581.5" y="65.9"/>
<use href="#d12_39467bd" x="1608.0" y="64.8"/>
<use href="#d12_39467bd" x="1619.5" y="63.2"/>
<polyline fill="none" stroke="#8c564b" stroke-width="3.3" stroke-linejoin="round" points="1479.4,563.0 1479.9,560.5 1479.9,558.0 1479.9,555.5 1479.5,553.0 1479.7,550.5 1479.5,548.0 1480.0,545.5 1480.0,543.0 1479.9,540.5 1479.8,537.9 1479.7,535.4 1480.1,532.9 1479.9,530.4 1480.0,527.9 1479.7,525.4 1479.8,522.9 1479.7,520.4 1480.1,517.9 1480.0,515.4 1479.8,512.9 1480.3,510.4 1479.9,507.9 1480.0,505.4 1479.9,502.9 1480.0,500.4 1480.4,497.9 1480.1,495.4 1480.0,492.8 1480.2,490.3 1480.1,487.8 1480.5,485.3 1480.1,482.8 1480.6,480.3 1480.1,477.8 1480.6,475.3 1480.5,472.8 1480.2,470.3 1480.4,467.8 1480.3,465.3 1480.3,462.8 1480.3,460.3 1480.4,457.8 1480.8,455.3 1480.8,452.8 1480.8,450.3 1480.3,447.8 1480.5,445.2 1480.9,442.7 1480.4,440.2 1480.8,437.7 1480.6,435.2 1481.0,432.7 1480.4,430.2 1480.9,427.7 1480.7,425.2 1480.6,422.7 1480.5,420.2 1481.0,417.7 1480.9,415.2 1480.7,412.7 1480.9,410.2 1481.2,407.7 1480.8,405.2 1481.0,402.7 1480.8,400.2 1480.8,397.6 1481.2,395.1 1481.2,392.6 1480.9,390.1 1480.9,387.6 1480.9,385.1 1481.2,382.6 1481.2,380.1 1481.1,377.6 1481.0,375.1 1481.3,372.6 1481.4,370.1 1481.5,367.6 1481.3,365.1 1481.1,362.6 1481.1,360.1 1481.5,357.6 1481.3,355.1 1481.5,352.5 1481.2,350.0 1481.6,347.5 1481.4,345.0 1481.7,342.5 1481.7,340.0 1481.5,337.5 1481.3,335.0 1481.8,332.5 1481.6,330.0 1481.9,327.5 1481.7,325.0 1481.7,322.5 1482.2,320.0 1482.0,317.5 1482.0,315.0 1482.2,312.5 1482.5,310.0 1482.2,307.5 1482.6,305.0 1482.7,302.5 1482.8,300.0 1482.7,297.5 1483.2,295.0 1483.3,292.5 1483.5,290.0 1483.2,287.5 1483.6,285.0 1483.5,282.5 1483.8,280.0 1483.5,277.5 1484.1,275.0 1484.2,272.5 1484.1,270.0 1484.2,267.5 1484.3,265.0 1484.4,262.5 1484.2,260.0 1484.9,257.5 1484.5,255.0 1484.6,252.5 1484.7,250.0 1484.9,247.5 1485.3,245.0 1484.9,242.5 1485.1,240.0 1485.5,237.5 1485.3,235.0 1485.3,232.5 1485.8,230.0 1485.9,227.5 1485.9,225.0 1486.2,222.5 1485.9,220.0 1486.5,217.5 1486.5,215.0 1486.2,212.5 1486.3,210.0 1486.7,207.5 1486.8,205.0 1486.7,202.5 1486.7,200.0 1487.0,197.5 1487.0,195.0 1487.3,192.5 1487.6,190.0 1487.3,187.5 1487.6,185.0 1487.8,182.5 1487.6,180.0 1488.1,177.5 1488.3,175.0 1488.1,172.4 1488.4,169.9 1488.8,167.3 1488.9,164.8 1489.0,162.2 1489.5,159.7 1489.6,157.1 1489.6,154.6 1489.8,152.0 1490.0,149.5 1490.3,146.9 1490.8,144.4 1490.9,141.8 1491.2,139.3 1491.4,136.7 1491.6,134.2 1491.3,131.6 1492.6,129.1 1493.8,126.6 1494.8,124.0 1495.4,121.5 1496.5,119.0 1497.4,116.3 1498.1,113.6 1499.1,110.9 1499.7,108.1 1500.7,105.4 1501.6,102.7 1502.2,100.0 1504.1,97.7 1506.4,95.4 1508.1,93.1 1510.0,90.8 1511.6,88.5 1514.1,86.8 1516.5,85.1 1518.9,83.4 1520.8,81.7 1523.6,80.0 1525.8,78.6 1528.4,77.2 1530.6,75.8 1533.1,74.4 1535.8,73.0 1538.4,71.5 1541.0,70.0 1544.0,68.5 1547.0,67.8 1550.3,67.0 1666.4,67.2 1807.5,65.7"/>
<use href="#p12_38c564b" x="1479.4" y="563.0"/>
<use href="#p12_38c564b" x="1479.9" y="560.5"/>
<use href="#p12_38c564b" x="1479.9" y="558.0"/>
<use href="#p12_38c564b" x="1479.9" y="555.5"/>
<use href="#p12_38c564b" x="1479.5" y="553.0"/>
<use href="#p12_38c564b" x="1479.7" y="550.5"/>
<use href="#p12_38c564b" x="1479.5" y="548.0"/>
<use href="#p12_38c564b" x="1480.0" y="545.5"/>
<use href="#p12_38c564b" x="1480.0" y="543.0"/>
<use href="#p12_38c564b" x="1479.9" y="540.5"/>
<use href="#p12_38c564b" x="1479.8" y="537.9"/>
<use href="#p12_38c564b" x="1479.7" y="535.4"/>
<use href="#p12_38c564b" x="1480.1" y="532.9"/>
<use href="#p12_38c564b" x="1479.9" y="530.4"/>
<use href="#p12_38c564b" x="1480.0" y="527.9"/>
<use href="#p12_38c564b" x="1479.7" y="525.4"/>
<use href="#p12_38c564b" x="1479.8" y="522.9"/>
<use href="#p12_38c564b" x="1479.7" y="520.4"/>
<use href="#p12_38c564b" x="1480.1" y="517.9"/>
<use href="#p12_38c564b" x="1480.0" y="515.4"/>
<use href="#p12_38c564b" x="1479.8" y="512.9"/>
<use href="#p12_38c564b" x="1480.3" y="510.4"/>
<use href="#p12_38c564b" x="1479.9" y="507.9"/>
<use href="#p12_38c564b" x="1480.0" y="505.4"/>
<use href="#p12_38c564b" x="1479.9" y="502.9"/>
<use href="#p12_38c564b" x="1480.0" y="500.4"/>
<use href="#p12_38c564b" x="1480.4" y="497.9"/>
<use href="#p12_38c564b" x="1480.1" y="495.4"/>
<use href="#p12_38c564b" x="1480.0" y="492.8"/>
<use href="#p12_38c564b" x="1480.2" y="490.3"/>
<use href="#p12_38c564b" x="1480.1" y="487.8"/>
<use href="#p12_38c564b" x="1480.5" y="485.3"/>
<use href="#p12_38c564b" x="1480.1" y="482.8"/>
<use href="#p12_38c564b" x="1480.6" y="480.3"/>
<use href="#p12_38c564b" x="1480.1" y="477.8"/>
<use href="#p12_38c564b" x="1480.6" y="475.3"/>
<use href="#p12_38c564b" x="1480.5" y="472.8"/>
<use href="#p12_38c564b" x="1480.2" y="470.3"/>
<use href="#p12_38c564b" x="1480.4" y="467.8"/>
<use href="#p12_38c564b" x="1480.3" y="465.3"/>
<use href="#p12_38c564b" x="1480.3" y="462.8"/>
<use href="#p12_38c564b" x="1480.3" y="460.3"/>
<use href="#p12_38c564b" x="1480.4" y="457.8"/>
<use href="#p12_38c564b" x="1480.8" y="455.3"/>
<use href="#p12_38c564b" x="1480.8" y="452.8"/>
<use href="#p12_38c564b" x="1480.8" y="450.3"/>
<use href="#p12_38c564b" x="1480.3" y="447.8"/>
<use href="#p12_38c564b" x="1480.5" y="445.2"/>
<use href="#p12_38c564b" x="1480.9" y="442.7"/>
<use href="#p12_38c564b" x="1480.4" y="440.2"/>
<use href="#p12_38c564b" x="1480.8" y="437.7"/>
<use href="#p12_38c564b" x="1480.6" y="435.2"/>
<use href="#p12_38c564b" x="1481.0" y="432.7"/>
<use href="#p12_38c564b" x="1480.4" y="430.2"/>
<use href="#p12_38c564b" x="1480.9" y="427.7"/>
<use href="#p12_38c564b" x="1480.7" y="425.2"/>
<use href="#p12_38c564b" x="1480.6" y="422.7"/>
<use href="#p12_38c564b" x="1480.5" y="420.2"/>
<use href="#p12_38c564b" x="1481.0" y="417.7"/>
<use href="#p12_38c564b" x="1480.9" y="415.2"/>
<use href="#p12_38c564b" x="1480.7" y="412.7"/>
<use href="#p12_38c564b" x="1480.9" y="410.2"/>
<use href="#p12_38c564b" x="1481.2" y="407.7"/>
<use href="#p12_38c564b" x="1480.8" y="405.2"/>
<use href="#p12_38c564b" x="1481.0" y="402.7"/>
<use href="#p12_38c564b" x="1480.8" y="400.2"/>
<use href="#p12_38c564b" x="1480.8" y="397.6"/>
<use href="#p12_38c564b" x="1481.2" y="395.1"/>
<use href="#p12_38c564b" x="1481.2" y="392.6"/>
<use href="#p12_38c564b" x="1480.9" y="390.1"/>
<use href="#p12_38c564b" x="1480.9" y="387.6"/>
<use href="#p12_38c564b" x="1480.9" y="385.1"/>
<use href="#p12_38c564b" x="1481.2" y="382.6"/>
<use href="#p12_38c564b" x="1481.2" y="380.1"/>
<use href="#p12_38c564b" x="1481.1" y="377.6"/>
<use href="#p12_38c564b" x="1481.0" y="375.1"/>
<use href="#p12_38c564b" x="1481.3" y="372.6"/>
<use href="#p12_38c564b" x="1481.4" y="370.1"/>
<use href="#p12_38c564b" x="1481.5" y="367.6"/>
<use href="#p12_38c564b" x="1481.3" y="365.1"/>
<use href="#p12_38c564b" x="1481.1" y="362.6"/>
<use href="#p12_38c564b" x="1481.1" y="360.1"/>
<use href="#p12_38c564b" x="1481.5" y="357.6"/>
<use href="#p12_38c564b" x="1481.3" y="355.1"/>
<use href="#p12_38c564b" x="1481.5" y="352.5"/>
<use href="#p12_38c564b" x="1481.2" y="350.0"/>
<use href="#p12_38c564b" x="1481.6" y="347.5"/>
<use href="#p12_38c564b" x="1481.4" y="345.0"/>
<use href="#p12_38c564b" x="1481.7" y="342.5"/>
<use href="#p12_38c564b" x="1481.7" y="340.0"/>
<use href="#p12_38c564b" x="1481.5" y="337.5"/>
<use href="#p12_38c564b" x="1481.3" y="335.0"/>
<use href="#p12_38c564b" x="1481.8" y="332.5"/>
<use href="#p12_38c564b" x="1481.6" y="330.0"/>
<use href="#p12_38c564b" x="1481.9" y="327.5"/>
<use href="#p12_38c564b" x="1481.7" y="325.0"/>
<use href="#p12_38c564b" x="1481.7" y="322.5"/>
<use href="#p12_38c564b" x="1482.2" y="320.0"/>
<use href="#p12_38c564b" x="1482.0" y="317.5"/>
<use href="#p12_38c564b" x="1482.0" y="315.0"/>
<use href="#p12_38c564b" x="1482.2" y="312.5"/>
<use href="#p12_38c564b" x="1482.5" y="310.0"/>
<use href="#p12_38c564b" x="1482.2" y="307.5"/>
<use href="#p12_38c564b" x="1482.6" y="305.0"/>
<use href="#p12_38c564b" x="1482.7" y="302.5"/>
<use href="#p12_38c564b" x="1482.8" y="300.0"/>
<use href="#p12_38c564b" x="1482.7" y="297.5"/>
<use href="#p12_38c564b" x="1483.2" y="295.0"/>
<use href="#p12_38c564b" x="1483.3" y="292.5"/>
<use href="#p12_38c564b" x="1483.5" y="290.0"/>
<use href="#p12_38c564b" x="1483.2" y="287.5"/>
<use href="#p12_38c564b" x="1483.6" y="285.0"/>
<use href="#p12_38c564b" x="1483.5" y="282.5"/>
<use href="#p12_38c564b" x="1483.8" y="280.0"/>
<use href="#p12_38c564b" x="1483.5" y="277.5"/>
<use href="#p12_38c564b" x="1484.1" y="275.0"/>
<use href="#p12_38c564b" x="1484.2" y="272.5"/>
<use href="#p12_38c564b" x="1484.1" y="270.0"/>
<use href="#p12_38c564b" x="1484.2" y="267.5"/>
<use href="#p12_38c564b" x="1484.3" y="265.0"/>
<use href="#p12_38c564b" x="1484.4" y="262.5"/>
<use href="#p12_38c564b" x="1484.2" y="260.0"/>
<use href="#p12_38c564b" x="1484.9" y="257.5"/>
<use href="#p12_38c564b" x="1484.5" y="255.0"/>
<use href="#p12_38c564b" x="1484.6" y="252.5"/>
<use href="#p12_38c564b" x="1484.7" y="250.0"/>
<use href="#p12_38c564b" x="1484.9" y="247.5"/>
<use href="#p12_38c564b" x="1485.3" y="245.0"/>
<use href="#p12_38c564b" x="1484.9" y="242.5"/>
<use href="#p12_38c564b" x="1485.1" y="240.0"/>
<use href="#p12_38c564b" x="1485.5" y="237.5"/>
<use href="#p12_38c564b" x="1485.3" y="235.0"/>
<use href="#p12_38c564b" x="1485.3" y="232.5"/>
<use href="#p12_38c564b" x="1485.8" y="230.0"/>
<use href="#p12_38c564b" x="1485.9" y="227.5"/>
<use href="#p12_38c564b" x="1485.9" y="225.0"/>
<use href="#p12_38c564b" x="1486.2" y="222.5"/>
<use href="#p12_38c564b" x="1485.9" y="220.0"/>
<use href="#p12_38c564b" x="1486.5" y="217.5"/>
<use href="#p12_38c564b" x="1486.5" y="215.0"/>
<use href="#p12_38c564b" x="1486.2" y="212.5"/>
<use href="#p12_38c564b" x="1486.3" y="210.0"/>
<use href="#p12_38c564b" x="1486.7" y="207.5"/>
<use href="#p12_38c564b" x="1486.8" y="205.0"/>
<use href="#p12_38c564b" x="1486.7" y="202.5"/>
<use href="#p12_38c564b" x="1486.7" y="200.0"/>
<use href="#p12_38c564b" x="1487.0" y="197.5"/>
<use href="#p12_38c564b" x="1487.0" y="195.0"/>
<use href="#p12_38c564b" x="1487.3" y="192.5"/>
<use href="#p12_38c564b" x="1487.6" y="190.0"/>
<use href="#p12_38c564b" x="1487.3" y="187.5"/>
<use href="#p12_38c564b" x="1487.6" y="185.0"/>
<use href="#p12_38c564b" x="1487.8" y="182.5"/>
<use href="#p12_38c564b" x="1487.6" y="180.0"/>
<use href="#p12_38c564b" x="1488.1" y="177.5"/>
<use href="#p12_38c564b" x="1488.3" y="175.0"/>
<use href="#p12_38c564b" x="1488.1" y="172.4"/>
<use href="#p12_38c564b" x="1488.4" y="169.9"/>
<use href="#p12_38c564b" x="1488.8" y="167.3"/>
<use href="#p12_38c564b" x="1488.9" y="164.8"/>
<use href="#p12_38c564b" x="1489.0" y="162.2"/>
<use href="#p12_38c564b" x="1489.5" y="159.7"/>
<use href="#p12_38c564b" x="1489.6" y="157.1"/>
<use href="#p12_38c564b" x="1489.6" y="154.6"/>
<use href="#p12_38c564b" x="1489.8" y="152.0"/>
<use href="#p12_38c564b" x="1490.0" y="149.5"/>
<use href="#p12_38c564b" x="1490.3" y="146.9"/>
<use href="#p12_38c564b" x="1490.8" y="144.4"/>
<use href="#p12_38c564b" x="1490.9" y="141.8"/>
<use href="#p12_38c564b" x="1491.2" y="139.3"/>
<use href="#p12_38c564b" x="1491.4" y="136.7"/>
<use href="#p12_38c564b" x="1491.6" y="134.2"/>
<use href="#p12_38c564b" x="1491.3" y="131.6"/>
<use href="#p12_38c564b" x="1492.6" y="129.1"/>
<use href="#p12_38c564b" x="1493.8" y="126.6"/>
<use href="#p12_38c564b" x="1494.8" y="124.0"/>
<use href="#p12_38c564b" x="1495.4" y="121.5"/>
<use href="#p12_38c564b" x="1496.5" y="119.0"/>
<use href="#p12_38c564b" x="1497.4" y="116.3"/>
<use href="#p12_38c564b" x="1498.1" y="113.6"/>
<use href="#p12_38c564b" x="1499.1" y="110.9"/>
<use href="#p12_38c564b" x="1499.7" y="108.1"/>
<use href="#p12_38c564b" x="1500.7" y="105.4"/>
<use href="#p12_38c564b" x="1501.6" y="102.7"/>
<use href="#p12_38c564b" x="1502.2" y="100.0"/>
<use href="#p12_38c564b" x="1504.1" y="97.7"/>
<use href="#p12_38c564b" x="1506.4" y="95.4"/>
<use href="#p12_38c564b" x="1508.1" y="93.1"/>
<use href="#p12_38c564b" x="1510.0" y="90.8"/>
<use href="#p12_38c564b" x="1511.6" y="88.5"/>
<use href="#p12_38c564b" x="1514.1" y="86.8"/>
<use href="#p12_38c564b" x="1516.5" y="85.1"/>
<use href="#p12_38c564b" x="1518.9" y="83.4"/>
<use href="#p12_38c564b" x="1520.8" y="81.7"/>
<use href="#p12_38c564b" x="1523.6" y="80.0"/>
<use href="#p12_38c564b" x="1525.8" y="78.6"/>
<use href="#p12_38c564b" x="1528.4" y="77.2"/>
<use href="#p12_38c564b" x="1530.6" y="75.8"/>
<use href="#p12_38c564b" x="1533.1" y="74.4"/>
<use href="#p12_38c564b" x="1535.8" y="73.0"/>
<use href="#p12_38c564b" x="1538.4" y="71.5"/>
<use href="#p12_38c564b" x="1541.0" y="70.0"/>
<use href="#p12_38c564b" x="1544.0" y="68.5"/>
<use href="#p12_38c564b" x="1547.0" y="67.8"/>
<use href="#p12_38c564b" x="1550.3" y="67.0"/>
<use href="#p12_38c564b" x="1666.4" y="67.2"/>
<use href="#p12_38c564b" x="1807.5" y="65.7"/>
<line x1="1801.7" x2="1836.3" y1="451.6" y2="451.6" stroke="#1f77b4" stroke-width="3.3"/>
<use href="#c12_31f77b4" x="1819.0" y="451.6"/>
<text x="1846.9" y="457.4" class="b" style="font-size:15.77px">Linear Regression</text>
<line x1="1801.7" x2="1836.3" y1="473.9" y2="473.9" stroke="#ff7f0e" stroke-width="3.3"/>
<use href="#s12_3ff7f0e" x="1819.0" y="473.9"/>
<text x="1846.9" y="479.7" class="b" style="font-size:15.77px">Decision Tree</text>
<line x1="1801.7" x2="1836.3" y1="496.3" y2="496.3" stroke="#2ca02c" stroke-width="3.3"/>
<use href="#u12_32ca02c" x="1819.0" y="496.3"/>
<text x="1846.9" y="502.1" class="b" style="font-size:15.77px">Random Forest</text>
<line x1="1801.7" x2="1836.3" y1="518.7" y2="518.7" stroke="#d62728" stroke-width="3.3"/>
<use href="#m12_3d62728" x="1819.0" y="518.7"/>
<text x="1846.9" y="524.5" class="b" style="font-size:15.77px">Gradient Boosting</text>
<line x1="1801.7" x2="1836.3" y1="541.0" y2="541.0" stroke="#9467bd" stroke-width="3.3"/>
<use href="#d12_39467bd" x="1819.0" y="541.0"/>
<text x="1846.9" y="546.8" class="b" style="font-size:15.77px">NuSVR</text>
<line x1="1801.7" x2="1836.3" y1="563.3" y2="563.3" stroke="#8c564b" stroke-width="3.3"/>
<use href="#p12_38c564b" x="1819.0" y="563.3"/>
<text x="1846.9" y="569.1" class="b" style="font-size:15.77px">KNN</text>
<text class="t" text-anchor="middle" x="1478.9" y="612.9" style="font-size:18.4px">0</text>
<text class="t" text-anchor="middle" x="1579.7" y="612.9" style="font-size:18.4px">100</text>
<text class="t" text-anchor="middle" x="1680.5" y="612.9" style="font-size:18.4px">200</text>
<text class="t" text-anchor="middle" x="1781.3" y="612.9" style="font-size:18.4px">300</text>
<text class="t" text-anchor="middle" x="1882.1" y="612.9" style="font-size:18.4px">400</text>
<text class="t" text-anchor="middle" x="1982.9" y="612.9" style="font-size:18.4px">500</text>
<text class="t" text-anchor="end" x="1440.6" y="569.6" style="font-size:18.4px">0</text>
<text class="t" text-anchor="end" x="1440.6" y="470.3" style="font-size:18.4px">20</text>
<text class="t" text-anchor="end" x="1440.6" y="370.9" style="font-size:18.4px">40</text>
<text class="t" text-anchor="end" x="1440.6" y="271.6" style="font-size:18.4px">60</text>
<text class="t" text-anchor="end" x="1440.6" y="172.2" style="font-size:18.4px">80</text>
<text class="t" text-anchor="end" x="1440.6" y="72.9" style="font-size:18.4px">100</text>
<text class="b" text-anchor="middle" transform="translate(1726.5,29.5) scale(1,0.95)" style="font-size:22.07px">Nitrogen Error Distribution</text>
<text class="b" text-anchor="middle" transform="translate(1726.4,636.9) scale(1,0.95)" style="font-size:20.2px">Absolute Relative Error (%)</text>
<text class="b" text-anchor="middle" transform="translate(1399.3,313.1) rotate(-90) scale(1,0.95)" style="font-size:20px">Cumulative Frequency (%)</text>
<text class="b" x="1898.7" y="226.6" style="font-size:41.5px;fill:#000">c</text>
</g>
</svg>
</body></html>
